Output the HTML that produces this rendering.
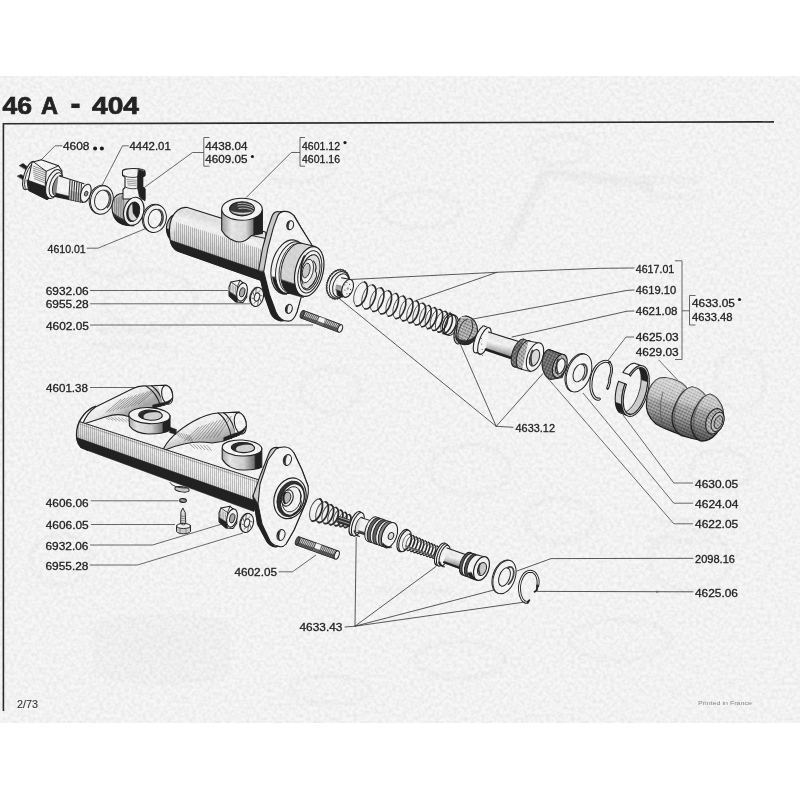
<!DOCTYPE html>
<html><head><meta charset="utf-8"><title>46 A - 404</title>
<style>
html,body{margin:0;padding:0;background:#fff;}
body{width:800px;height:800px;overflow:hidden;position:relative;font-family:"Liberation Sans",sans-serif;}
#paper{position:absolute;left:0;top:76px;width:800px;height:647px;background:#f7f7f7;}
svg{position:absolute;left:0;top:0;font-family:"Liberation Sans",sans-serif;}
</style></head><body>
<div id="paper"></div>
<svg width="800" height="800" viewBox="0 0 800 800">
<defs><filter id="gb" x="-20%" y="-20%" width="140%" height="140%"><feGaussianBlur stdDeviation="1.6"/></filter></defs>
<g filter="url(#gb)" opacity="0.22">
<path d="M508 246 L545 172 L640 183" fill="none" stroke="#dcdcdc" stroke-width="10.799999999999999" stroke-linejoin="round" stroke-linecap="round" />
<ellipse cx="648" cy="186" rx="7" ry="9" transform="rotate(10 648 186)" fill="#dcdcdc" stroke="none" stroke-width="0.0" />
<path d="M95 628 C95 612 225 612 228 628 L228 668 C225 688 95 688 95 668 Z" fill="#eeeeee" stroke="#dcdcdc" stroke-width="2.4" stroke-linejoin="round" stroke-linecap="round" />
<ellipse cx="160" cy="648" rx="40" ry="18" transform="rotate(0 160 648)" fill="#e6e6e6" stroke="none" stroke-width="0.0" />
<ellipse cx="150" cy="300" rx="45" ry="30" transform="rotate(0 150 300)" fill="none" stroke="#dcdcdc" stroke-width="3.5999999999999996" />
<ellipse cx="110" cy="262" rx="25" ry="14" transform="rotate(0 110 262)" fill="none" stroke="#dcdcdc" stroke-width="3.5999999999999996" />
<ellipse cx="330" cy="390" rx="30" ry="22" transform="rotate(0 330 390)" fill="none" stroke="#dcdcdc" stroke-width="3.5999999999999996" />
<ellipse cx="470" cy="470" rx="40" ry="25" transform="rotate(0 470 470)" fill="none" stroke="#dcdcdc" stroke-width="3.5999999999999996" />
<ellipse cx="690" cy="560" rx="40" ry="30" transform="rotate(0 690 560)" fill="none" stroke="#dcdcdc" stroke-width="3.5999999999999996" />
<ellipse cx="560" cy="520" rx="35" ry="22" transform="rotate(0 560 520)" fill="none" stroke="#dcdcdc" stroke-width="3.5999999999999996" />
<ellipse cx="720" cy="470" rx="30" ry="20" transform="rotate(0 720 470)" fill="none" stroke="#dcdcdc" stroke-width="3.5999999999999996" />
<ellipse cx="60" cy="560" rx="30" ry="25" transform="rotate(0 60 560)" fill="none" stroke="#dcdcdc" stroke-width="3.5999999999999996" />
<ellipse cx="420" cy="210" rx="40" ry="18" transform="rotate(0 420 210)" fill="none" stroke="#dcdcdc" stroke-width="3.5999999999999996" />
<ellipse cx="300" cy="170" rx="35" ry="12" transform="rotate(0 300 170)" fill="none" stroke="#dcdcdc" stroke-width="3.5999999999999996" />
<ellipse cx="620" cy="640" rx="50" ry="20" transform="rotate(0 620 640)" fill="none" stroke="#dcdcdc" stroke-width="3.5999999999999996" />
<ellipse cx="460" cy="660" rx="45" ry="18" transform="rotate(0 460 660)" fill="none" stroke="#dcdcdc" stroke-width="3.5999999999999996" />
<ellipse cx="330" cy="690" rx="40" ry="14" transform="rotate(0 330 690)" fill="none" stroke="#dcdcdc" stroke-width="3.5999999999999996" />
<ellipse cx="740" cy="380" rx="25" ry="30" transform="rotate(0 740 380)" fill="none" stroke="#dcdcdc" stroke-width="3.5999999999999996" />
<ellipse cx="560" cy="150" rx="30" ry="14" transform="rotate(0 560 150)" fill="none" stroke="#dcdcdc" stroke-width="3.5999999999999996" />
<path d="M640 178 l60 2" fill="none" stroke="#e2e2e2" stroke-width="6.0" stroke-linejoin="round" stroke-linecap="round" />
<path d="M650 196 l50 2" fill="none" stroke="#e2e2e2" stroke-width="6.0" stroke-linejoin="round" stroke-linecap="round" />
<path d="M655 520 l70 2" fill="none" stroke="#e2e2e2" stroke-width="6.0" stroke-linejoin="round" stroke-linecap="round" />
<path d="M650 540 l60 2" fill="none" stroke="#e2e2e2" stroke-width="6.0" stroke-linejoin="round" stroke-linecap="round" />
<path d="M100 330 l60 2" fill="none" stroke="#e2e2e2" stroke-width="6.0" stroke-linejoin="round" stroke-linecap="round" />
<path d="M95 345 l70 2" fill="none" stroke="#e2e2e2" stroke-width="6.0" stroke-linejoin="round" stroke-linecap="round" />
<path d="M380 590 l70 2" fill="none" stroke="#e2e2e2" stroke-width="6.0" stroke-linejoin="round" stroke-linecap="round" />
</g>
<g opacity="0.99">
<path d="M3.4 711.0 L3.4 123.7 L774.0 121.9" fill="none" stroke="#2a2a2a" stroke-width="1.6" stroke-linejoin="miter"/>
<text x="2.4" y="113.6" font-size="23.2" font-weight="bold" fill="#222" stroke="#222" stroke-width="0.7" textLength="29.60" lengthAdjust="spacingAndGlyphs">46</text>
<text x="41" y="113.6" font-size="23.2" font-weight="bold" fill="#222" stroke="#222" stroke-width="0.7" textLength="17.00" lengthAdjust="spacingAndGlyphs">A</text>
<text transform="translate(70.0 115.0) scale(1.42 1.6)" x="0" y="0" font-size="23.2" font-weight="bold" fill="#222">-</text>
<text x="92" y="113.6" font-size="23.2" font-weight="bold" fill="#222" stroke="#222" stroke-width="0.7" textLength="47.00" lengthAdjust="spacingAndGlyphs">404</text>
<text x="63" y="150" font-size="10.5" font-weight="normal" fill="#1c1c1c" stroke="#1c1c1c" stroke-width="0.28" textLength="26.50" lengthAdjust="spacingAndGlyphs">4608</text>
<text x="129.5" y="150" font-size="10.5" font-weight="normal" fill="#1c1c1c" stroke="#1c1c1c" stroke-width="0.28" textLength="41.25" lengthAdjust="spacingAndGlyphs">4442.01</text>
<text x="205.3" y="150" font-size="10.5" font-weight="normal" fill="#1c1c1c" stroke="#1c1c1c" stroke-width="0.28" textLength="42.30" lengthAdjust="spacingAndGlyphs">4438.04</text>
<text x="205.3" y="162.6" font-size="10.5" font-weight="normal" fill="#1c1c1c" stroke="#1c1c1c" stroke-width="0.28" textLength="42.30" lengthAdjust="spacingAndGlyphs">4609.05</text>
<text x="302" y="150" font-size="10.5" font-weight="normal" fill="#1c1c1c" stroke="#1c1c1c" stroke-width="0.28" textLength="38.00" lengthAdjust="spacingAndGlyphs">4601.12</text>
<text x="302" y="162.6" font-size="10.5" font-weight="normal" fill="#1c1c1c" stroke="#1c1c1c" stroke-width="0.28" textLength="38.00" lengthAdjust="spacingAndGlyphs">4601.16</text>
<text x="47.5" y="252.5" font-size="10.5" font-weight="normal" fill="#1c1c1c" stroke="#1c1c1c" stroke-width="0.28" textLength="38.25" lengthAdjust="spacingAndGlyphs">4610.01</text>
<text x="45.75" y="294.75" font-size="10.5" font-weight="normal" fill="#1c1c1c" stroke="#1c1c1c" stroke-width="0.28" textLength="43.00" lengthAdjust="spacingAndGlyphs">6932.06</text>
<text x="45.75" y="308" font-size="10.5" font-weight="normal" fill="#1c1c1c" stroke="#1c1c1c" stroke-width="0.28" textLength="43.00" lengthAdjust="spacingAndGlyphs">6955.28</text>
<text x="46" y="329.5" font-size="10.5" font-weight="normal" fill="#1c1c1c" stroke="#1c1c1c" stroke-width="0.28" textLength="43.00" lengthAdjust="spacingAndGlyphs">4602.05</text>
<text x="46" y="392" font-size="10.5" font-weight="normal" fill="#1c1c1c" stroke="#1c1c1c" stroke-width="0.28" textLength="42.00" lengthAdjust="spacingAndGlyphs">4601.38</text>
<text x="45.75" y="506.5" font-size="10.5" font-weight="normal" fill="#1c1c1c" stroke="#1c1c1c" stroke-width="0.28" textLength="43.00" lengthAdjust="spacingAndGlyphs">4606.06</text>
<text x="45.75" y="528.75" font-size="10.5" font-weight="normal" fill="#1c1c1c" stroke="#1c1c1c" stroke-width="0.28" textLength="43.00" lengthAdjust="spacingAndGlyphs">4606.05</text>
<text x="45.5" y="549.5" font-size="10.5" font-weight="normal" fill="#1c1c1c" stroke="#1c1c1c" stroke-width="0.28" textLength="43.00" lengthAdjust="spacingAndGlyphs">6932.06</text>
<text x="45.5" y="569.5" font-size="10.5" font-weight="normal" fill="#1c1c1c" stroke="#1c1c1c" stroke-width="0.28" textLength="43.00" lengthAdjust="spacingAndGlyphs">6955.28</text>
<text x="234.5" y="576.25" font-size="10.5" font-weight="normal" fill="#1c1c1c" stroke="#1c1c1c" stroke-width="0.28" textLength="42.50" lengthAdjust="spacingAndGlyphs">4602.05</text>
<text x="299.5" y="631.25" font-size="10.5" font-weight="normal" fill="#1c1c1c" stroke="#1c1c1c" stroke-width="0.28" textLength="43.00" lengthAdjust="spacingAndGlyphs">4633.43</text>
<text x="515.5" y="431.75" font-size="10.5" font-weight="normal" fill="#1c1c1c" stroke="#1c1c1c" stroke-width="0.28" textLength="39.50" lengthAdjust="spacingAndGlyphs">4633.12</text>
<text x="635.75" y="272.5" font-size="10.5" font-weight="normal" fill="#1c1c1c" stroke="#1c1c1c" stroke-width="0.28" textLength="38.50" lengthAdjust="spacingAndGlyphs">4617.01</text>
<text x="635.75" y="294" font-size="10.5" font-weight="normal" fill="#1c1c1c" stroke="#1c1c1c" stroke-width="0.28" textLength="40.50" lengthAdjust="spacingAndGlyphs">4619.10</text>
<text x="635.75" y="315" font-size="10.5" font-weight="normal" fill="#1c1c1c" stroke="#1c1c1c" stroke-width="0.28" textLength="41.75" lengthAdjust="spacingAndGlyphs">4621.08</text>
<text x="635.75" y="341.25" font-size="10.5" font-weight="normal" fill="#1c1c1c" stroke="#1c1c1c" stroke-width="0.28" textLength="43.00" lengthAdjust="spacingAndGlyphs">4625.03</text>
<text x="635.75" y="356" font-size="10.5" font-weight="normal" fill="#1c1c1c" stroke="#1c1c1c" stroke-width="0.28" textLength="43.00" lengthAdjust="spacingAndGlyphs">4629.03</text>
<text x="692" y="307" font-size="10.5" font-weight="normal" fill="#1c1c1c" stroke="#1c1c1c" stroke-width="0.28" textLength="43.00" lengthAdjust="spacingAndGlyphs">4633.05</text>
<text x="692" y="321.25" font-size="10.5" font-weight="normal" fill="#1c1c1c" stroke="#1c1c1c" stroke-width="0.28" textLength="40.50" lengthAdjust="spacingAndGlyphs">4633.48</text>
<text x="695" y="487.5" font-size="10.5" font-weight="normal" fill="#1c1c1c" stroke="#1c1c1c" stroke-width="0.28" textLength="43.25" lengthAdjust="spacingAndGlyphs">4630.05</text>
<text x="695" y="508" font-size="10.5" font-weight="normal" fill="#1c1c1c" stroke="#1c1c1c" stroke-width="0.28" textLength="43.50" lengthAdjust="spacingAndGlyphs">4624.04</text>
<text x="695" y="528" font-size="10.5" font-weight="normal" fill="#1c1c1c" stroke="#1c1c1c" stroke-width="0.28" textLength="43.25" lengthAdjust="spacingAndGlyphs">4622.05</text>
<text x="695" y="563" font-size="10.5" font-weight="normal" fill="#1c1c1c" stroke="#1c1c1c" stroke-width="0.28" textLength="40.00" lengthAdjust="spacingAndGlyphs">2098.16</text>
<text x="695" y="597" font-size="10.5" font-weight="normal" fill="#1c1c1c" stroke="#1c1c1c" stroke-width="0.28" textLength="43.00" lengthAdjust="spacingAndGlyphs">4625.06</text>
<text x="17" y="708.3" font-size="10.5" font-weight="normal" fill="#333" stroke="#333" stroke-width="0.1" textLength="21.00" lengthAdjust="spacingAndGlyphs">2/73</text>
<text x="698" y="705" font-size="6" font-weight="normal" fill="#8a8a8a" stroke="#8a8a8a" stroke-width="0" textLength="54.00" lengthAdjust="spacingAndGlyphs">Printed in France</text>
<circle cx="95.1" cy="148.5" r="2.0" fill="#1c1c1c"/>
<circle cx="101.9" cy="148.5" r="2.0" fill="#1c1c1c"/>
<circle cx="252.4" cy="156.5" r="1.6" fill="#1c1c1c"/>
<circle cx="345" cy="142.6" r="1.6" fill="#1c1c1c"/>
<circle cx="739.5" cy="299.5" r="1.6" fill="#1c1c1c"/>
</g>
<path d="M62.5 145.8 L55.0 145.8 L40.0 161.0" fill="none" stroke="#444" stroke-width="0.8" />
<path d="M128.8 145.8 L122.5 145.8 L102.0 185.5" fill="none" stroke="#444" stroke-width="0.8" />
<path d="M209.5 137.5 L203.8 137.5 L203.8 166.2 L209.5 166.2" fill="none" stroke="#444" stroke-width="0.8" />
<path d="M203.8 152.5 L192.5 152.5 L142.5 188.8" fill="none" stroke="#444" stroke-width="0.8" />
<path d="M305.0 137.5 L300.0 137.5 L300.0 166.2 L305.0 166.2" fill="none" stroke="#444" stroke-width="0.8" />
<path d="M300.0 152.5 L291.2 152.5 L246.2 197.5" fill="none" stroke="#444" stroke-width="0.8" />
<path d="M86.8 248.2 L98.0 248.2 L145.0 228.8" fill="none" stroke="#444" stroke-width="0.8" />
<path d="M90.0 290.5 L228.0 290.5" fill="none" stroke="#444" stroke-width="0.8" />
<path d="M90.0 303.8 L250.0 303.8" fill="none" stroke="#444" stroke-width="0.8" />
<path d="M90.0 325.0 L313.0 325.0" fill="none" stroke="#444" stroke-width="0.8" />
<path d="M90.0 387.5 L135.0 387.5" fill="none" stroke="#444" stroke-width="0.8" />
<path d="M91.0 500.8 L178.5 500.8" fill="none" stroke="#444" stroke-width="0.8" />
<path d="M91.0 524.5 L175.0 524.5" fill="none" stroke="#444" stroke-width="0.8" />
<path d="M90.0 545.0 L152.5 545.0 L222.0 524.0" fill="none" stroke="#444" stroke-width="0.8" />
<path d="M90.0 565.0 L137.5 565.0 L243.0 533.0" fill="none" stroke="#444" stroke-width="0.8" />
<path d="M278.8 571.8 L292.5 571.8 L316.0 555.0" fill="none" stroke="#444" stroke-width="0.8" />
<path d="M675.0 260.8 L682.0 260.8 L682.0 359.5 L675.0 359.5" fill="none" stroke="#444" stroke-width="0.8" />
<path d="M682.0 310.8 L689.5 310.8" fill="none" stroke="#444" stroke-width="0.8" />
<path d="M695.5 295.5 L689.5 295.5 L689.5 325.0 L695.5 325.0" fill="none" stroke="#444" stroke-width="0.8" />
<path d="M634.0 337.0 L626.0 337.0 L607.5 361.0" fill="none" stroke="#444" stroke-width="0.8" />
<path d="M658.8 360.0 L677.5 380.0" fill="none" stroke="#444" stroke-width="0.8" />
<path d="M693.0 483.0 L673.8 483.0 L623.0 415.0" fill="none" stroke="#444" stroke-width="0.8" />
<path d="M693.0 503.2 L673.8 503.2 L583.0 393.0" fill="none" stroke="#444" stroke-width="0.8" />
<path d="M693.0 523.8 L673.8 523.8 L547.6 378.0" fill="none" stroke="#444" stroke-width="0.8" />
<path d="M19.5 165.5 L23.0 163.5 L27.0 166.5 L26.0 169.5 Z" fill="#222" stroke="#222" stroke-width="0.6" stroke-linejoin="round" stroke-linecap="round" />
<path d="M17.5 176.0 L21.0 174.5 L25.5 177.5 L24.5 180.5 Z" fill="#222" stroke="#222" stroke-width="0.6" stroke-linejoin="round" stroke-linecap="round" />
<ellipse cx="29.5" cy="175.5" rx="5.5" ry="14.8" transform="rotate(18 29.5 175.5)" fill="#f7f7f7" stroke="#222" stroke-width="1.08" />
<ellipse cx="31" cy="176" rx="5" ry="14" transform="rotate(18 31 176)" fill="#f7f7f7" stroke="#222" stroke-width="0.84" />
<path d="M32.0 162.3 L41.3 159.8 L58.5 165.8 L62.0 171.0 L60.0 190.0 L47.0 199.5 L29.0 190.5 L27.5 184.0 Z" fill="#f7f7f7" stroke="#222" stroke-width="1.08" stroke-linejoin="round" stroke-linecap="round" />
<path d="M27.2 180.0 L45.2 186.5 L51.0 184.0 L52.0 196.0 L47.0 199.5 L29.0 190.5 Z" fill="#222" stroke="#222" stroke-width="0.72" stroke-linejoin="round" stroke-linecap="round" />
<path d="M33.0 166.0 L45.5 170.6" fill="none" stroke="#555" stroke-width="0.6" stroke-linejoin="round" stroke-linecap="round" />
<path d="M33.2 168.1 L45.5 172.7" fill="none" stroke="#555" stroke-width="0.6" stroke-linejoin="round" stroke-linecap="round" />
<path d="M33.4 170.2 L45.5 174.8" fill="none" stroke="#555" stroke-width="0.6" stroke-linejoin="round" stroke-linecap="round" />
<path d="M33.6 172.3 L45.5 176.9" fill="none" stroke="#555" stroke-width="0.6" stroke-linejoin="round" stroke-linecap="round" />
<path d="M33.8 174.4 L45.5 179.0" fill="none" stroke="#555" stroke-width="0.6" stroke-linejoin="round" stroke-linecap="round" />
<path d="M34.0 176.5 L45.5 181.1" fill="none" stroke="#555" stroke-width="0.6" stroke-linejoin="round" stroke-linecap="round" />
<path d="M34.2 178.6 L45.5 183.2" fill="none" stroke="#555" stroke-width="0.6" stroke-linejoin="round" stroke-linecap="round" />
<path d="M33.7 162 L46.2 171.3 L45.2 186.5" fill="none" stroke="#222" stroke-width="0.96" stroke-linejoin="round" stroke-linecap="round" />
<path d="M46.2 171.3 L58.5 165.8" fill="none" stroke="#222" stroke-width="0.96" stroke-linejoin="round" stroke-linecap="round" />
<ellipse cx="54" cy="184" rx="7.5" ry="15" transform="rotate(18 54 184)" fill="#f7f7f7" stroke="#222" stroke-width="1.08" />
<ellipse cx="56" cy="184.8" rx="6" ry="12.5" transform="rotate(18 56 184.8)" fill="#f7f7f7" stroke="#222" stroke-width="0.96" />
<ellipse cx="58" cy="185.5" rx="4.8" ry="10.5" transform="rotate(18 58 185.5)" fill="#888" stroke="#222" stroke-width="0.84" />
<path d="M58.5 175.6 L83.0 183.4 L90.5 190.0 L89.0 200.0 L82.5 202.2 L56.0 196.5 Z" fill="#f7f7f7" stroke="#222" stroke-width="0.00012" stroke-linejoin="round" stroke-linecap="round" />
<path d="M59.5 176 L84 183.8" fill="none" stroke="#222" stroke-width="1.08" stroke-linejoin="round" stroke-linecap="round" />
<path d="M55 196.3 L83 202.3" fill="none" stroke="#222" stroke-width="1.2" stroke-linejoin="round" stroke-linecap="round" />
<path d="M56.0 193.0 L70.0 196.5 L70.0 199.5 L56.0 196.5 Z" fill="#222" stroke="#222" stroke-width="0.48" stroke-linejoin="round" stroke-linecap="round" />
<path d="M70.0 180.2 L68.8 199.5" fill="none" stroke="#333" stroke-width="1.08" stroke-linejoin="round" stroke-linecap="round" />
<path d="M72.3 180.9 L71.1 200.0" fill="none" stroke="#333" stroke-width="1.08" stroke-linejoin="round" stroke-linecap="round" />
<path d="M74.6 181.7 L73.4 200.5" fill="none" stroke="#333" stroke-width="1.08" stroke-linejoin="round" stroke-linecap="round" />
<path d="M76.9 182.4 L75.7 201.0" fill="none" stroke="#333" stroke-width="1.08" stroke-linejoin="round" stroke-linecap="round" />
<path d="M79.2 183.2 L78.0 201.5" fill="none" stroke="#333" stroke-width="1.08" stroke-linejoin="round" stroke-linecap="round" />
<path d="M81.5 183.9 L80.3 202.0" fill="none" stroke="#333" stroke-width="1.08" stroke-linejoin="round" stroke-linecap="round" />
<path d="M69.5 190.0 L82.0 193.5 L82.0 201.8 L69.0 199.0 Z" fill="#555" stroke="none" stroke-width="0.0" stroke-linejoin="round" stroke-linecap="round" />
<path d="M70.6 190.0 L70.0 199.3" fill="none" stroke="#ddd" stroke-width="0.84" stroke-linejoin="round" stroke-linecap="round" />
<path d="M72.9 190.6 L72.3 199.8" fill="none" stroke="#ddd" stroke-width="0.84" stroke-linejoin="round" stroke-linecap="round" />
<path d="M75.2 191.2 L74.6 200.3" fill="none" stroke="#ddd" stroke-width="0.84" stroke-linejoin="round" stroke-linecap="round" />
<path d="M77.5 191.8 L76.9 200.8" fill="none" stroke="#ddd" stroke-width="0.84" stroke-linejoin="round" stroke-linecap="round" />
<path d="M79.8 192.4 L79.2 201.3" fill="none" stroke="#ddd" stroke-width="0.84" stroke-linejoin="round" stroke-linecap="round" />
<path d="M82.1 193.0 L81.5 201.8" fill="none" stroke="#ddd" stroke-width="0.84" stroke-linejoin="round" stroke-linecap="round" />
<ellipse cx="85.8" cy="193.2" rx="4.8" ry="9.3" transform="rotate(18 85.8 193.2)" fill="#f7f7f7" stroke="#222" stroke-width="1.08" />
<ellipse cx="86.2" cy="193.6" rx="1.6" ry="2.6" transform="rotate(18 86.2 193.6)" fill="#999" stroke="#222" stroke-width="0.84" />
<ellipse cx="100.60000000000001" cy="199.532" rx="11.2" ry="14.4" transform="rotate(14 100.60000000000001 199.532)" fill="#f7f7f7" stroke="#222" stroke-width="0.96" />
<ellipse cx="101.9" cy="200" rx="11.2" ry="14.4" transform="rotate(14 101.9 200)" fill="#f7f7f7" stroke="#222" stroke-width="0.96" />
<ellipse cx="101.9" cy="200" rx="7.2" ry="10" transform="rotate(14 101.9 200)" fill="#f7f7f7" stroke="#222" stroke-width="0.96" />
<path d="M105.9 190.5 A7.2 10 14 0 1 107.3 207.5" fill="none" stroke="#444" stroke-width="1.68" stroke-linejoin="round" stroke-linecap="round" />
<path d="M133.7 197 L123 193.5 C113 193 110 205 113.5 215.5 C116 222 121 226 133.7 225.6 Z" fill="#cdcdcd" stroke="#222" stroke-width="1.08" stroke-linejoin="round" stroke-linecap="round" />
<path d="M113.2 213 C115 221.5 121 226.5 133.7 225.6 L131 221 C122 220 117 216 113.2 213 Z" fill="#222" stroke="#222" stroke-width="0.6" stroke-linejoin="round" stroke-linecap="round" />
<path d="M114.5 199.5 L115.0 216.5" fill="none" stroke="#555" stroke-width="0.6" stroke-linejoin="round" stroke-linecap="round" />
<path d="M116.3 198.6 L116.8 217.3" fill="none" stroke="#555" stroke-width="0.6" stroke-linejoin="round" stroke-linecap="round" />
<path d="M118.1 197.7 L118.6 218.1" fill="none" stroke="#555" stroke-width="0.6" stroke-linejoin="round" stroke-linecap="round" />
<path d="M119.9 196.8 L120.4 218.9" fill="none" stroke="#555" stroke-width="0.6" stroke-linejoin="round" stroke-linecap="round" />
<path d="M121.7 195.9 L122.2 219.7" fill="none" stroke="#555" stroke-width="0.6" stroke-linejoin="round" stroke-linecap="round" />
<path d="M123.5 195.0 L124.0 220.5" fill="none" stroke="#555" stroke-width="0.6" stroke-linejoin="round" stroke-linecap="round" />
<path d="M122.5 171.2 C122.5 167.5 145 167.5 145 171.5 L145 175.5 L142.7 177 L142.7 187 L145 189 L145 199 L123 199 L123 189.5 L125 187.5 L125 177 L122.5 175.5 Z" fill="#f7f7f7" stroke="#222" stroke-width="1.08" stroke-linejoin="round" stroke-linecap="round" />
<path d="M138.5 169.3 L145 171.5 L145 175.5 L142.7 177 L142.7 187 L145 189 L145 201 L139.5 197 L137.5 188 L137.5 177 Z" fill="#222" stroke="#222" stroke-width="0.6" stroke-linejoin="round" stroke-linecap="round" />
<path d="M122.5 174.5 C124 177.5 136 178.5 138 176.5" fill="none" stroke="#222" stroke-width="0.84" stroke-linejoin="round" stroke-linecap="round" />
<path d="M125 186.5 C127 189 135 189.5 137.5 188" fill="none" stroke="#222" stroke-width="0.84" stroke-linejoin="round" stroke-linecap="round" />
<path d="M127.0 179.5 L136.5 180.3" fill="none" stroke="#666" stroke-width="0.6" stroke-linejoin="round" stroke-linecap="round" />
<path d="M127.3 181.3 L136.5 182.1" fill="none" stroke="#666" stroke-width="0.6" stroke-linejoin="round" stroke-linecap="round" />
<path d="M127.6 183.1 L136.5 183.9" fill="none" stroke="#666" stroke-width="0.6" stroke-linejoin="round" stroke-linecap="round" />
<path d="M127.9 184.9 L136.5 185.7" fill="none" stroke="#666" stroke-width="0.6" stroke-linejoin="round" stroke-linecap="round" />
<ellipse cx="133.75" cy="211.3" rx="10" ry="14.3" transform="rotate(14 133.75 211.3)" fill="#f7f7f7" stroke="#222" stroke-width="1.08" />
<ellipse cx="133.2" cy="211.8" rx="6.3" ry="10" transform="rotate(14 133.2 211.8)" fill="#222" stroke="#222" stroke-width="0.96" />
<path d="M128.3 215 C128 209 130 204.5 132.5 203.5 L133 213 L137 218.5 C134 222.5 129.5 221.5 128.3 215 Z" fill="#ddd" stroke="#222" stroke-width="0.48" stroke-linejoin="round" stroke-linecap="round" />
<ellipse cx="153.7" cy="218.132" rx="11.2" ry="14" transform="rotate(14 153.7 218.132)" fill="#f7f7f7" stroke="#222" stroke-width="0.96" />
<ellipse cx="155" cy="218.6" rx="11.2" ry="14" transform="rotate(14 155 218.6)" fill="#f7f7f7" stroke="#222" stroke-width="0.96" />
<ellipse cx="155" cy="218.6" rx="6.6" ry="9.5" transform="rotate(14 155 218.6)" fill="#f7f7f7" stroke="#222" stroke-width="0.96" />
<path d="M158.6 209.6 A6.6 9.5 14 0 1 159.9 225.7" fill="none" stroke="#444" stroke-width="1.68" stroke-linejoin="round" stroke-linecap="round" />
<defs>
<linearGradient id="cylg" gradientUnits="userSpaceOnUse" x1="225" y1="219" x2="211" y2="262">
<stop offset="0" stop-color="#ececec"/><stop offset="0.12" stop-color="#e2e2e2"/><stop offset="0.3" stop-color="#f5f5f5"/><stop offset="0.5" stop-color="#ececec"/><stop offset="0.8" stop-color="#d2d2d2"/><stop offset="1" stop-color="#b4b4b4"/></linearGradient>
<pattern id="hv" width="2" height="8" patternUnits="userSpaceOnUse"><line x1="0.5" y1="0" x2="0.5" y2="8" stroke="#444" stroke-width="0.8"/></pattern>
<linearGradient id="bossg" gradientUnits="userSpaceOnUse" x1="221" y1="0" x2="262" y2="0">
<stop offset="0" stop-color="#999"/><stop offset="0.25" stop-color="#e8e8e8"/><stop offset="0.6" stop-color="#ddd"/><stop offset="0.78" stop-color="#888"/><stop offset="0.8" stop-color="#222"/><stop offset="1" stop-color="#222"/></linearGradient>
</defs>
<path d="M175.5 213.4 C170 216 166.5 222 166.4 228 C166.4 232 167.5 236 170 239 L172.5 236 Z" fill="#bbb" stroke="#222" stroke-width="1.08" stroke-linejoin="round" stroke-linecap="round" />
<path d="M166.5 229 C166.6 233 168 237 170.5 240 L171.5 236.5 C169.5 234 168.8 232 168.5 229 Z" fill="#222" stroke="#222" stroke-width="0.48" stroke-linejoin="round" stroke-linecap="round" />
<path d="M187.4 207.5 L266 232.3 L262 280.7 L178 251.3 C174 249.5 171 245.5 170.2 240 C169 232 169.2 224 171.5 218.5 C174 212 180 206.5 187.4 207.5 Z" fill="url(#cylg)" stroke="#222" stroke-width="1.2" stroke-linejoin="round" stroke-linecap="round" />
<path d="M176 222 L264 250 L262 275 L172 243 Z" fill="url(#hv)" stroke="none" stroke-width="0.0" stroke-linejoin="round" stroke-linecap="round" opacity="0.4"/>
<path d="M170.3 240.2 L262.3 271.7 L262 280.7 L178 251.3 C174 249.5 171 245.5 170.3 240.2 Z" fill="#222" stroke="#222" stroke-width="0.72" stroke-linejoin="round" stroke-linecap="round" />
<path d="M221.7 209.5 L221.7 230.5 C226 238 234 242 240 242 C246 242 249 238 251.5 235.5 L262.4 233.5 L262.4 209.5 Z" fill="url(#bossg)" stroke="#222" stroke-width="1.08" stroke-linejoin="round" stroke-linecap="round" />
<ellipse cx="242" cy="209.3" rx="20.3" ry="11" transform="rotate(0 242 209.3)" fill="#f7f7f7" stroke="#222" stroke-width="1.08" />
<ellipse cx="242" cy="208.8" rx="12.4" ry="7.1" transform="rotate(0 242 208.8)" fill="#3a3a3a" stroke="#222" stroke-width="1.08" />
<path d="M238 203.6 C244 202.6 250 204 253 206.5 M238 206 C244 205 250.5 206.3 253.6 208.6 M239 208.5 C244 207.5 250 208.6 253 210.8" fill="none" stroke="#ddd" stroke-width="0.72" stroke-linejoin="round" stroke-linecap="round" />
<path d="M230.2 210 C233 216 250 216.5 253.8 210.5 C250 213 236 213.5 230.2 210 Z" fill="#ddd" stroke="#222" stroke-width="0.36" stroke-linejoin="round" stroke-linecap="round" />
<path d="M251.5 235.5 L266 238.5" fill="none" stroke="#222" stroke-width="0.96" stroke-linejoin="round" stroke-linecap="round" />
<path d="M279 211.8 C276 211 273 213 271.5 217.5 L268 228 L262.5 248.5 L258.5 271 L264 294 L270.5 312.5 C273 319 280 322 284 320.5 L289 321 L297 312 L300.5 297 L311.6 245 L301 227.6 L294 215.5 L284 211.4 Z" fill="#ccc" stroke="#222" stroke-width="1.08" stroke-linejoin="round" stroke-linecap="round" />
<path d="M258.5 271 L264 294 L270.5 312.5 C273 319 280 322 284 320.5 C280 319 277.5 316 275.9 312 L269.4 294.25 L263.7 271.5 Z" fill="#222" stroke="#222" stroke-width="0.6" stroke-linejoin="round" stroke-linecap="round" />
<path d="M284 211.4 C288 211 291.5 213 293.75 215.4 L301 227.6 L312.5 246 L301.5 296 L297 312 C295 318 291.5 321.5 288.9 321 C284 321.5 278.5 318.5 275.9 312 L269.4 294.25 L263.7 271.5 L267.75 248.75 L273.4 227.6 L277.5 216.25 C279 213 281.5 211.6 284 211.4 Z" fill="#f7f7f7" stroke="#222" stroke-width="1.08" stroke-linejoin="round" stroke-linecap="round" />
<ellipse cx="290.2" cy="225.2" rx="3.3" ry="4.6" transform="rotate(15 290.2 225.2)" fill="#f7f7f7" stroke="#222" stroke-width="1.08" />
<path d="M288 222 C286.5 224.5 287 228 289 229.5 C288 227 288.3 224 290 221" fill="#333" stroke="#222" stroke-width="0.6" stroke-linejoin="round" stroke-linecap="round" />
<ellipse cx="288.9" cy="308.9" rx="3.3" ry="4.6" transform="rotate(15 288.9 308.9)" fill="#f7f7f7" stroke="#222" stroke-width="1.08" />
<path d="M286.7 305.7 C285.2 308.2 285.7 311.7 287.7 313.2 C286.7 310.7 287 307.7 288.7 304.7" fill="#333" stroke="#222" stroke-width="0.6" stroke-linejoin="round" stroke-linecap="round" />
<ellipse cx="288.5" cy="266.8" rx="16.8" ry="27.4" transform="rotate(14 288.5 266.8)" fill="#f7f7f7" stroke="#222" stroke-width="1.08" />
<path d="M272.3 277 C273.5 285 277 291.5 282.5 294.2 L287 294.6 C281.5 291 278 285 276.8 277.5 Z" fill="#222" stroke="#222" stroke-width="0.48" stroke-linejoin="round" stroke-linecap="round" />
<ellipse cx="292" cy="267.6" rx="15.6" ry="26.4" transform="rotate(14 292 267.6)" fill="#f7f7f7" stroke="#222" stroke-width="0.96" />
<ellipse cx="294.3" cy="268" rx="14.4" ry="25.6" transform="rotate(14 294.3 268)" fill="#f7f7f7" stroke="#222" stroke-width="0.84" />
<path d="M294.5 243 L314 246.8 L304 297.5 L286 291.5 Z" fill="#ddd" stroke="#222" stroke-width="0.0" stroke-linejoin="round" stroke-linecap="round" />
<ellipse cx="295.5" cy="268" rx="13.8" ry="25.2" transform="rotate(14 295.5 268)" fill="#d8d8d8" stroke="#222" stroke-width="0.96" />
<path d="M301.5 243.5 L315 246.5 L303.5 297.5 L289.5 293 Z" fill="#ddd" stroke="none" stroke-width="0.0" stroke-linejoin="round" stroke-linecap="round" />
<path d="M301.5 243.2 L315.5 246.6" fill="none" stroke="#222" stroke-width="1.08" stroke-linejoin="round" stroke-linecap="round" />
<path d="M281.5 280 C283 288 287 293 291 294 L303.5 297.5 C299 295 296.5 290 295.5 284.5 Z" fill="#222" stroke="#222" stroke-width="0.6" stroke-linejoin="round" stroke-linecap="round" />
<ellipse cx="309.2" cy="271.5" rx="13.8" ry="25.4" transform="rotate(14 309.2 271.5)" fill="#f7f7f7" stroke="#222" stroke-width="1.2" />
<ellipse cx="309.8" cy="271.9" rx="11.2" ry="21.5" transform="rotate(14 309.8 271.9)" fill="#f7f7f7" stroke="#222" stroke-width="0.96" />
<ellipse cx="310.2" cy="272.3" rx="9" ry="18" transform="rotate(14 310.2 272.3)" fill="#e4e4e4" stroke="#222" stroke-width="0.96" />
<ellipse cx="307.2" cy="271" rx="5.8" ry="12" transform="rotate(14 307.2 271)" fill="#f7f7f7" stroke="#222" stroke-width="0.84" />
<ellipse cx="306.2" cy="270.5" rx="3.6" ry="7.5" transform="rotate(14 306.2 270.5)" fill="#ccc" stroke="#222" stroke-width="0.84" />
<path d="M304 255.5 C299.5 262 299.5 277 303 284.5 C300.5 276 301 263 305.5 256 Z" fill="#222" stroke="#222" stroke-width="0.48" stroke-linejoin="round" stroke-linecap="round" />
<path d="M313.5 261 C316 264 316.5 268 315.3 271 C317 273 316.8 277 315 280 C313.5 283.5 311.5 286 309 287.5" fill="none" stroke="#222" stroke-width="1.08" stroke-linejoin="round" stroke-linecap="round" />
<path d="M303.5 287 C305.5 289.5 308 289 309.5 287.5" fill="none" stroke="#222" stroke-width="0.96" stroke-linejoin="round" stroke-linecap="round" />
<defs>
<pattern id="stip" width="3" height="3" patternUnits="userSpaceOnUse" patternTransform="rotate(25)"><rect width="3" height="3" fill="#b8b8b8"/><circle cx="0.7" cy="0.8" r="0.55" fill="#222"/><circle cx="2.2" cy="2.1" r="0.55" fill="#e8e8e8"/><circle cx="2.3" cy="0.5" r="0.4" fill="#333"/></pattern>
<pattern id="stipl" width="3" height="3" patternUnits="userSpaceOnUse" patternTransform="rotate(25)"><rect width="3" height="3" fill="#cfcfcf"/><circle cx="0.7" cy="0.8" r="0.5" fill="#555"/><circle cx="2.2" cy="2.1" r="0.45" fill="#777"/></pattern>
<pattern id="stipd" width="3" height="3" patternUnits="userSpaceOnUse" patternTransform="rotate(25)"><rect width="3" height="3" fill="#6e6e6e"/><circle cx="0.7" cy="0.8" r="0.5" fill="#d8d8d8"/><circle cx="2.2" cy="2.1" r="0.6" fill="#1a1a1a"/></pattern>
</defs>
<path d="M229.0 287.0 L231.0 282.0 L240.0 280.3 L246.5 285.5 L246.8 297.0 L243.0 302.5 L236.0 302.0 L229.3 296.0 Z" fill="#f7f7f7" stroke="#222" stroke-width="1.08" stroke-linejoin="round" stroke-linecap="round" />
<path d="M229.2 291.5 L237.0 296.5 L237.5 302.0 L236.0 302.0 L229.3 296.0 Z" fill="#222" stroke="#222" stroke-width="0.6" stroke-linejoin="round" stroke-linecap="round" />
<path d="M231 282 L237.5 286.5 L237 296.5 M237.5 286.5 L240 280.3" fill="none" stroke="#222" stroke-width="0.84" stroke-linejoin="round" stroke-linecap="round" />
<path d="M230.5 284.0 L230.3 291.5" fill="none" stroke="#666" stroke-width="0.54" stroke-linejoin="round" stroke-linecap="round" />
<path d="M232.2 285.0 L232.0 292.6" fill="none" stroke="#666" stroke-width="0.54" stroke-linejoin="round" stroke-linecap="round" />
<path d="M233.9 286.0 L233.7 293.7" fill="none" stroke="#666" stroke-width="0.54" stroke-linejoin="round" stroke-linecap="round" />
<path d="M235.6 287.0 L235.4 294.8" fill="none" stroke="#666" stroke-width="0.54" stroke-linejoin="round" stroke-linecap="round" />
<ellipse cx="242" cy="292" rx="5" ry="9.3" transform="rotate(15 242 292)" fill="#f7f7f7" stroke="#222" stroke-width="1.08" />
<ellipse cx="242.2" cy="292.3" rx="2.6" ry="4.8" transform="rotate(15 242.2 292.3)" fill="#aaa" stroke="#222" stroke-width="0.84" />
<ellipse cx="256.2" cy="296.7" rx="6.3" ry="9.6" transform="rotate(15 256.2 296.7)" fill="#f7f7f7" stroke="#222" stroke-width="0.96" />
<ellipse cx="257" cy="297" rx="6.3" ry="9.6" transform="rotate(15 257 297)" fill="#f7f7f7" stroke="#222" stroke-width="1.08" />
<ellipse cx="257" cy="297" rx="2.6" ry="4.2" transform="rotate(15 257 297)" fill="#f7f7f7" stroke="#222" stroke-width="0.96" />
<path d="M259.7 298.3 L261.1 302.0" fill="none" stroke="#444" stroke-width="0.72" stroke-linejoin="round" stroke-linecap="round" />
<path d="M258.3 300.9 L257.7 305.1" fill="none" stroke="#444" stroke-width="0.72" stroke-linejoin="round" stroke-linecap="round" />
<path d="M256.2 301.2 L253.9 303.5" fill="none" stroke="#444" stroke-width="0.72" stroke-linejoin="round" stroke-linecap="round" />
<path d="M254.5 299.1 L251.8 298.1" fill="none" stroke="#444" stroke-width="0.72" stroke-linejoin="round" stroke-linecap="round" />
<path d="M254.3 295.7 L252.9 292.0" fill="none" stroke="#444" stroke-width="0.72" stroke-linejoin="round" stroke-linecap="round" />
<path d="M255.7 293.1 L256.3 288.9" fill="none" stroke="#444" stroke-width="0.72" stroke-linejoin="round" stroke-linecap="round" />
<path d="M257.8 292.8 L260.1 290.5" fill="none" stroke="#444" stroke-width="0.72" stroke-linejoin="round" stroke-linecap="round" />
<path d="M259.5 294.9 L262.2 295.9" fill="none" stroke="#444" stroke-width="0.72" stroke-linejoin="round" stroke-linecap="round" />
<path d="M300.8 317.9 L338.8 332.2 L341.6 324.8 L303.6 310.5 Z" fill="#d8d8d8" stroke="#222" stroke-width="0.96" stroke-linejoin="round" stroke-linecap="round" />
<path d="M300.8 317.9 L338.8 332.2 L339.9 329.2 L301.7 315.5 Z" fill="#6a6a6a" stroke="#222" stroke-width="0.36" stroke-linejoin="round" stroke-linecap="round" />
<path d="M304.1 310.8 L300.3 317.6" fill="none" stroke="#333" stroke-width="0.72" stroke-linejoin="round" stroke-linecap="round" />
<path d="M305.8 311.4 L301.9 318.3" fill="none" stroke="#333" stroke-width="0.72" stroke-linejoin="round" stroke-linecap="round" />
<path d="M307.4 312.0 L303.6 318.9" fill="none" stroke="#333" stroke-width="0.72" stroke-linejoin="round" stroke-linecap="round" />
<path d="M309.1 312.6 L305.2 319.5" fill="none" stroke="#333" stroke-width="0.72" stroke-linejoin="round" stroke-linecap="round" />
<path d="M310.7 313.2 L306.9 320.1" fill="none" stroke="#333" stroke-width="0.72" stroke-linejoin="round" stroke-linecap="round" />
<path d="M312.4 313.9 L308.5 320.7" fill="none" stroke="#333" stroke-width="0.72" stroke-linejoin="round" stroke-linecap="round" />
<path d="M314.0 314.5 L310.2 321.4" fill="none" stroke="#333" stroke-width="0.72" stroke-linejoin="round" stroke-linecap="round" />
<path d="M315.7 315.1 L311.8 322.0" fill="none" stroke="#333" stroke-width="0.72" stroke-linejoin="round" stroke-linecap="round" />
<path d="M317.4 315.7 L313.5 322.6" fill="none" stroke="#333" stroke-width="0.72" stroke-linejoin="round" stroke-linecap="round" />
<path d="M319.0 316.4 L315.1 323.2" fill="none" stroke="#333" stroke-width="0.72" stroke-linejoin="round" stroke-linecap="round" />
<path d="M327.3 319.5 L323.4 326.3" fill="none" stroke="#333" stroke-width="0.72" stroke-linejoin="round" stroke-linecap="round" />
<path d="M328.9 320.1 L325.0 327.0" fill="none" stroke="#333" stroke-width="0.72" stroke-linejoin="round" stroke-linecap="round" />
<path d="M330.6 320.7 L326.7 327.6" fill="none" stroke="#333" stroke-width="0.72" stroke-linejoin="round" stroke-linecap="round" />
<path d="M332.2 321.3 L328.4 328.2" fill="none" stroke="#333" stroke-width="0.72" stroke-linejoin="round" stroke-linecap="round" />
<path d="M333.9 322.0 L330.0 328.8" fill="none" stroke="#333" stroke-width="0.72" stroke-linejoin="round" stroke-linecap="round" />
<path d="M335.5 322.6 L331.7 329.5" fill="none" stroke="#333" stroke-width="0.72" stroke-linejoin="round" stroke-linecap="round" />
<path d="M337.2 323.2 L333.3 330.1" fill="none" stroke="#333" stroke-width="0.72" stroke-linejoin="round" stroke-linecap="round" />
<path d="M338.8 323.8 L335.0 330.7" fill="none" stroke="#333" stroke-width="0.72" stroke-linejoin="round" stroke-linecap="round" />
<path d="M340.5 324.4 L336.6 331.3" fill="none" stroke="#333" stroke-width="0.72" stroke-linejoin="round" stroke-linecap="round" />
<path d="M342.1 325.1 L338.3 331.9" fill="none" stroke="#333" stroke-width="0.72" stroke-linejoin="round" stroke-linecap="round" />
<path d="M319.5 316.6 L325.6 318.8 L323.8 323.6 L317.7 321.3 Z" fill="#f7f7f7" stroke="#222" stroke-width="0.36" stroke-linejoin="round" stroke-linecap="round" />
<ellipse cx="302.2" cy="314.2" rx="1.8" ry="3.9" transform="rotate(20.622111237594634 302.2 314.2)" fill="#555" stroke="#222" stroke-width="0.72" />
<ellipse cx="340.2" cy="328.5" rx="2.2" ry="3.9" transform="rotate(20.622111237594634 340.2 328.5)" fill="#f7f7f7" stroke="#222" stroke-width="0.96" />
<ellipse cx="338" cy="284.3" rx="10.8" ry="15" transform="rotate(20 338 284.3)" fill="#f7f7f7" stroke="#222" stroke-width="1.2" />
<ellipse cx="338" cy="284.3" rx="10.8" ry="15" transform="rotate(20 338 284.3)" fill="none" stroke="#444" stroke-width="1.92" stroke-dasharray="1.2 1.3"/>
<ellipse cx="339.3" cy="284.8" rx="9.4" ry="13.6" transform="rotate(20 339.3 284.8)" fill="#f7f7f7" stroke="#222" stroke-width="0.96" />
<ellipse cx="340.8" cy="285.4" rx="7.6" ry="12" transform="rotate(20 340.8 285.4)" fill="#f7f7f7" stroke="#222" stroke-width="0.96" />
<path d="M341.5 277.8 L349.5 279.3 L352.5 286.0 L350.5 295.0 L346.0 297.4 L337.5 295.0 Z" fill="#f7f7f7" stroke="#222" stroke-width="0.0" stroke-linejoin="round" stroke-linecap="round" />
<path d="M341.5 277.8 L349 279.2" fill="none" stroke="#222" stroke-width="1.08" stroke-linejoin="round" stroke-linecap="round" />
<path d="M337.5 295 L346 297.5" fill="none" stroke="#222" stroke-width="1.08" stroke-linejoin="round" stroke-linecap="round" />
<path d="M336.2 289.5 L341.5 291.5 L343.0 297.0 L337.5 295.2 Z" fill="#222" stroke="#222" stroke-width="0.48" stroke-linejoin="round" stroke-linecap="round" />
<path d="M336.8 285.0 L341.2 286.2 L341.5 291.5 L336.2 289.5 Z" fill="#aaa" stroke="#222" stroke-width="0.36" stroke-linejoin="round" stroke-linecap="round" />
<ellipse cx="347.6" cy="288.3" rx="5.3" ry="9.3" transform="rotate(20 347.6 288.3)" fill="#f7f7f7" stroke="#222" stroke-width="1.08" />
<circle cx="350.6" cy="289.3" r="0.6" fill="#333"/>
<circle cx="349.5" cy="293.5" r="0.6" fill="#333"/>
<circle cx="346.9" cy="293.8" r="0.6" fill="#333"/>
<circle cx="344.9" cy="290.0" r="0.6" fill="#333"/>
<circle cx="344.9" cy="284.8" r="0.6" fill="#333"/>
<circle cx="346.9" cy="282.3" r="0.6" fill="#333"/>
<circle cx="349.5" cy="284.3" r="0.6" fill="#333"/>
<circle cx="347.8" cy="288.6" r="1.1" fill="#999"/>
<path d="M364.6 281.9 A6.4 12.8 18.8 0 0 356.4 306.1" fill="none" stroke="#555" stroke-width="0.972" stroke-linejoin="round" stroke-linecap="round" />
<path d="M372.9 284.9 A6.3 12.6 18.8 0 0 364.8 308.8" fill="none" stroke="#555" stroke-width="0.972" stroke-linejoin="round" stroke-linecap="round" />
<path d="M380.9 287.8 A6.2 12.4 18.8 0 0 372.9 311.3" fill="none" stroke="#555" stroke-width="0.972" stroke-linejoin="round" stroke-linecap="round" />
<path d="M388.6 290.7 A6.1 12.2 18.8 0 0 380.7 313.8" fill="none" stroke="#555" stroke-width="0.972" stroke-linejoin="round" stroke-linecap="round" />
<path d="M396.1 293.4 A6.0 12.1 18.8 0 0 388.3 316.2" fill="none" stroke="#555" stroke-width="0.972" stroke-linejoin="round" stroke-linecap="round" />
<path d="M403.2 296.0 A5.9 11.9 18.8 0 0 395.5 318.5" fill="none" stroke="#555" stroke-width="0.972" stroke-linejoin="round" stroke-linecap="round" />
<path d="M410.0 298.5 A5.9 11.7 18.8 0 0 402.5 320.7" fill="none" stroke="#555" stroke-width="0.972" stroke-linejoin="round" stroke-linecap="round" />
<path d="M416.6 300.9 A5.8 11.6 18.8 0 0 409.1 322.8" fill="none" stroke="#555" stroke-width="0.972" stroke-linejoin="round" stroke-linecap="round" />
<path d="M422.9 303.2 A5.7 11.4 18.8 0 0 415.5 324.8" fill="none" stroke="#555" stroke-width="0.972" stroke-linejoin="round" stroke-linecap="round" />
<path d="M428.9 305.4 A5.6 11.3 18.8 0 0 421.6 326.7" fill="none" stroke="#555" stroke-width="0.972" stroke-linejoin="round" stroke-linecap="round" />
<path d="M434.6 307.5 A5.6 11.2 18.8 0 0 427.4 328.6" fill="none" stroke="#555" stroke-width="0.972" stroke-linejoin="round" stroke-linecap="round" />
<path d="M440.0 309.4 A5.5 11.0 18.8 0 0 432.9 330.3" fill="none" stroke="#555" stroke-width="0.972" stroke-linejoin="round" stroke-linecap="round" />
<path d="M445.1 311.3 A5.5 10.9 18.8 0 0 438.1 332.0" fill="none" stroke="#555" stroke-width="0.972" stroke-linejoin="round" stroke-linecap="round" />
<path d="M450.0 313.1 A5.4 10.8 18.8 0 0 443.0 333.5" fill="none" stroke="#555" stroke-width="0.972" stroke-linejoin="round" stroke-linecap="round" />
<path d="M364.6 281.9 A6.4 12.8 18.8 0 1 356.4 306.1" fill="none" stroke="#2a2a2a" stroke-width="1.62" stroke-linejoin="round" stroke-linecap="round" />
<path d="M372.9 284.9 A6.3 12.6 18.8 0 1 364.8 308.8" fill="none" stroke="#2a2a2a" stroke-width="1.62" stroke-linejoin="round" stroke-linecap="round" />
<path d="M380.9 287.8 A6.2 12.4 18.8 0 1 372.9 311.3" fill="none" stroke="#2a2a2a" stroke-width="1.62" stroke-linejoin="round" stroke-linecap="round" />
<path d="M388.6 290.7 A6.1 12.2 18.8 0 1 380.7 313.8" fill="none" stroke="#2a2a2a" stroke-width="1.62" stroke-linejoin="round" stroke-linecap="round" />
<path d="M396.1 293.4 A6.0 12.1 18.8 0 1 388.3 316.2" fill="none" stroke="#2a2a2a" stroke-width="1.62" stroke-linejoin="round" stroke-linecap="round" />
<path d="M403.2 296.0 A5.9 11.9 18.8 0 1 395.5 318.5" fill="none" stroke="#2a2a2a" stroke-width="1.62" stroke-linejoin="round" stroke-linecap="round" />
<path d="M410.0 298.5 A5.9 11.7 18.8 0 1 402.5 320.7" fill="none" stroke="#2a2a2a" stroke-width="1.62" stroke-linejoin="round" stroke-linecap="round" />
<path d="M416.6 300.9 A5.8 11.6 18.8 0 1 409.1 322.8" fill="none" stroke="#2a2a2a" stroke-width="1.62" stroke-linejoin="round" stroke-linecap="round" />
<path d="M422.9 303.2 A5.7 11.4 18.8 0 1 415.5 324.8" fill="none" stroke="#2a2a2a" stroke-width="1.62" stroke-linejoin="round" stroke-linecap="round" />
<path d="M428.9 305.4 A5.6 11.3 18.8 0 1 421.6 326.7" fill="none" stroke="#2a2a2a" stroke-width="1.62" stroke-linejoin="round" stroke-linecap="round" />
<path d="M434.6 307.5 A5.6 11.2 18.8 0 1 427.4 328.6" fill="none" stroke="#2a2a2a" stroke-width="1.62" stroke-linejoin="round" stroke-linecap="round" />
<path d="M440.0 309.4 A5.5 11.0 18.8 0 1 432.9 330.3" fill="none" stroke="#2a2a2a" stroke-width="1.62" stroke-linejoin="round" stroke-linecap="round" />
<path d="M445.1 311.3 A5.5 10.9 18.8 0 1 438.1 332.0" fill="none" stroke="#2a2a2a" stroke-width="1.62" stroke-linejoin="round" stroke-linecap="round" />
<path d="M450.0 313.1 A5.4 10.8 18.8 0 1 443.0 333.5" fill="none" stroke="#2a2a2a" stroke-width="1.62" stroke-linejoin="round" stroke-linecap="round" />
<ellipse cx="449.3" cy="324.4" rx="6.3" ry="10.6" transform="rotate(20 449.3 324.4)" fill="none" stroke="#222" stroke-width="1.2" />
<ellipse cx="451.3" cy="325.2" rx="6.3" ry="10.6" transform="rotate(20 451.3 325.2)" fill="none" stroke="#222" stroke-width="0.96" />
<ellipse cx="462.2" cy="330" rx="7" ry="14.6" transform="rotate(20 462.2 330)" fill="url(#stip)" stroke="#222" stroke-width="1.08" />
<path d="M466.5 316.4 C474 317.5 479 325 477 334 C475.5 341 470 345.5 463 344.5 C460 344 457 341 455.8 337 L457.5 322 C459.5 318 462.5 316 466.5 316.4 Z" fill="url(#stip)" stroke="#222" stroke-width="1.08" stroke-linejoin="round" stroke-linecap="round" />
<path d="M456 336 C458 342 461 344.6 464.5 344.6 C470 345 476 340.5 477.3 333 C474 338.5 468 341.5 462 340 C459 339.5 457 338 456 336 Z" fill="#2a2a2a" stroke="#222" stroke-width="0.36" stroke-linejoin="round" stroke-linecap="round" />
<ellipse cx="465.3" cy="330.8" rx="6.4" ry="12.6" transform="rotate(20 465.3 330.8)" fill="none" stroke="#333" stroke-width="0.84" />
<path d="M461 318 C464 316.5 468 317.5 470 319" fill="none" stroke="#ddd" stroke-width="1.44" stroke-linejoin="round" stroke-linecap="round" />
<ellipse cx="480" cy="339.5" rx="5" ry="14.2" transform="rotate(20 480 339.5)" fill="#f7f7f7" stroke="#222" stroke-width="1.08" />
<path d="M483.0 325.6 L487.2 327.0 L489.0 355.4 L484.6 354.0 Z" fill="#f7f7f7" stroke="#222" stroke-width="0.0" stroke-linejoin="round" stroke-linecap="round" />
<ellipse cx="484.4" cy="341" rx="5" ry="14.2" transform="rotate(20 484.4 341)" fill="#f7f7f7" stroke="#222" stroke-width="1.08" />
<path d="M483 325.8 L487.3 327.2 M476.5 352.6 L481 354.2" fill="none" stroke="#222" stroke-width="0.96" stroke-linejoin="round" stroke-linecap="round" />
<circle cx="481.4" cy="338.4" r="0.5" fill="#333"/>
<circle cx="481.7" cy="344.1" r="0.5" fill="#333"/>
<circle cx="482.1" cy="349.5" r="0.5" fill="#333"/>
<circle cx="482.3" cy="353.5" r="0.5" fill="#333"/>
<circle cx="482.4" cy="355.2" r="0.5" fill="#333"/>
<path d="M488.5 332.0 L521.0 342.3 L516.0 360.6 L485.8 350.6 Z" fill="#f7f7f7" stroke="#222" stroke-width="0.0" stroke-linejoin="round" stroke-linecap="round" />
<linearGradient id="shg" gradientUnits="userSpaceOnUse" x1="505" y1="336" x2="500" y2="356"><stop offset="0" stop-color="#eee"/><stop offset="0.45" stop-color="#f4f4f4"/><stop offset="0.75" stop-color="#bbb"/><stop offset="1" stop-color="#666"/></linearGradient>
<path d="M488.5 332.0 L521.0 342.3 L516.0 360.6 L485.8 350.6 Z" fill="url(#shg)" stroke="#222" stroke-width="0.0" stroke-linejoin="round" stroke-linecap="round" />
<path d="M488.5 332 L521 342.3" fill="none" stroke="#222" stroke-width="1.08" stroke-linejoin="round" stroke-linecap="round" />
<path d="M486 349.5 L515.5 359.4" fill="none" stroke="#222" stroke-width="2.64" stroke-linejoin="round" stroke-linecap="round" />
<ellipse cx="519" cy="353" rx="6.5" ry="14.6" transform="rotate(20 519 353)" fill="url(#stipd)" stroke="#222" stroke-width="0.96" />
<path d="M523.5 339.5 L528.5 341.2 L521.5 369.2 L516.5 367.5 Z" fill="url(#stip)" stroke="#222" stroke-width="0.0" stroke-linejoin="round" stroke-linecap="round" />
<path d="M523.5 339.3 L528.5 341 M514.5 366.8 L522 369.4" fill="none" stroke="#222" stroke-width="0.96" stroke-linejoin="round" stroke-linecap="round" />
<ellipse cx="524.5" cy="354.7" rx="6.8" ry="14.8" transform="rotate(20 524.5 354.7)" fill="url(#stip)" stroke="#222" stroke-width="0.96" />
<path d="M528.5 341.0 L539.5 343.2 L531.0 371.8 L522.0 369.4 Z" fill="#f7f7f7" stroke="#222" stroke-width="0.0" stroke-linejoin="round" stroke-linecap="round" />
<path d="M528.5 341 L539 343 M522 369.4 L530.5 371.6" fill="none" stroke="#222" stroke-width="0.96" stroke-linejoin="round" stroke-linecap="round" />
<ellipse cx="535" cy="357" rx="7.6" ry="14.8" transform="rotate(20 535 357)" fill="#f7f7f7" stroke="#222" stroke-width="1.08" />
<ellipse cx="534.5" cy="357.8" rx="4.6" ry="8.6" transform="rotate(20 534.5 357.8)" fill="#ddd" stroke="#222" stroke-width="0.96" />
<path d="M532.5 350.5 C530.5 354 530.3 361 532 365.5" fill="none" stroke="#444" stroke-width="1.7999999999999998" stroke-linejoin="round" stroke-linecap="round" />
<path d="M549 349.5 C545 350 541.5 357 542 365 C542.5 372 546 378.5 551 379.5 L562 377.5 L567 366 L563 354.5 Z" fill="url(#stipd)" stroke="#222" stroke-width="1.08" stroke-linejoin="round" stroke-linecap="round" />
<path d="M549 349.5 L560.5 354 " fill="none" stroke="#222" stroke-width="0.96" stroke-linejoin="round" stroke-linecap="round" />
<ellipse cx="559.8" cy="366" rx="6.6" ry="12.2" transform="rotate(20 559.8 366)" fill="url(#stip)" stroke="#222" stroke-width="1.08" />
<ellipse cx="560.3" cy="366.3" rx="4.2" ry="8" transform="rotate(20 560.3 366.3)" fill="#f7f7f7" stroke="#222" stroke-width="0.96" />
<path d="M558 359.5 C556.2 363 556.2 369 558 373" fill="none" stroke="#333" stroke-width="1.56" stroke-linejoin="round" stroke-linecap="round" />
<ellipse cx="577.8" cy="372.568" rx="11.6" ry="19.8" transform="rotate(20 577.8 372.568)" fill="#f7f7f7" stroke="#222" stroke-width="0.96" />
<ellipse cx="579" cy="373" rx="11.6" ry="19.8" transform="rotate(20 579 373)" fill="#f7f7f7" stroke="#222" stroke-width="0.96" />
<ellipse cx="579" cy="373" rx="5.4" ry="9.2" transform="rotate(20 579 373)" fill="#f7f7f7" stroke="#222" stroke-width="0.96" />
<path d="M582.0 364.3 A5.4 9.2 20 0 1 583.0 379.9" fill="none" stroke="#444" stroke-width="1.68" stroke-linejoin="round" stroke-linecap="round" />
<path d="M609.5 362.5 C606 360 600.5 361.5 596.5 366.5 C590.5 374 589 389 593.5 396 C595 398.5 597.5 399.5 599.3 399" fill="none" stroke="#222" stroke-width="3.12" stroke-linejoin="round" stroke-linecap="round" />
<path d="M609.5 362.5 C606 360 600.5 361.5 596.5 366.5 C590.5 374 589 389 593.5 396 C595 398.5 597.5 399.5 599.3 399" fill="none" stroke="#f7f7f7" stroke-width="1.08" stroke-linejoin="round" stroke-linecap="round" />
<path d="M609.5 362.5 C612 366 612 372 610 377.5 C609 380.5 610.5 381.5 609 384 L607.6 388.3" fill="none" stroke="#222" stroke-width="2.88" stroke-linejoin="round" stroke-linecap="round" />
<path d="M609.7 363 C612 366 612 372 610 377.5 C609 380.5 610.5 381.5 609 384 L607.8 387.6" fill="none" stroke="#f7f7f7" stroke-width="0.84" stroke-linejoin="round" stroke-linecap="round" />
<path d="M634.8 365.2 L636.1 365.5 L637.3 366.1 L638.3 367.2 L639.3 368.6 L640.0 370.3 L640.6 372.3 L641.0 374.6 L641.2 377.1 L641.2 379.7 L640.9 382.6 L640.6 385.5 L640.0 388.5 L639.2 391.4 L638.3 394.4 L637.2 397.2 L636.0 399.9 L634.7 402.4 L633.3 404.7 L631.8 406.7 L630.3 408.5 L628.7 409.9 L627.2 411.0 L625.7 411.7 L624.2 412.0 L630.7 414.4 L632.2 414.1 L633.7 413.4 L635.2 412.3 L636.8 410.9 L638.3 409.1 L639.8 407.1 L641.2 404.8 L642.5 402.3 L643.7 399.6 L644.8 396.8 L645.7 393.8 L646.5 390.9 L647.1 387.9 L647.4 385.0 L647.7 382.1 L647.7 379.5 L647.5 377.0 L647.1 374.7 L646.5 372.7 L645.8 371.0 L644.8 369.6 L643.8 368.5 L642.6 367.9 L641.3 367.6 Z" fill="#d0d0d0" stroke="#222" stroke-width="0.84" stroke-linejoin="round" stroke-linecap="round" />
<path d="M638.1 366.9 L638.3 367.2 L638.6 367.5 L638.8 367.9 L639.1 368.2 L639.3 368.6 L639.5 369.0 L639.7 369.5 L639.9 369.9 L640.0 370.4 L640.2 370.9 L640.4 371.4 L640.5 371.9 L640.6 372.5 L640.7 373.0 L640.8 373.6 L640.9 374.2 L641.0 374.8 L641.1 375.5 L641.1 376.1 L641.1 376.8 L641.2 377.4 L641.2 378.1 L641.2 378.8 L641.2 379.5 L647.7 381.9 L647.7 381.2 L647.7 380.5 L647.7 379.8 L647.6 379.2 L647.6 378.5 L647.6 377.9 L647.5 377.2 L647.4 376.6 L647.3 376.0 L647.2 375.4 L647.1 374.9 L647.0 374.3 L646.9 373.8 L646.7 373.3 L646.5 372.8 L646.4 372.3 L646.2 371.9 L646.0 371.4 L645.8 371.0 L645.6 370.6 L645.3 370.3 L645.1 369.9 L644.8 369.6 L644.6 369.3 Z" fill="#222" stroke="#222" stroke-width="0.48" stroke-linejoin="round" stroke-linecap="round" />
<path d="M619.9 412.8 L619.2 412.3 L618.6 411.6 L618.0 410.9 L617.5 410.0 L617.1 409.1 L616.6 408.1 L616.3 407.0 L616.0 405.8 L615.7 404.6 L615.5 403.3 L615.3 401.9 L615.3 400.5 L615.2 399.0 L615.3 397.5 L615.3 395.9 L615.5 394.3 L615.7 392.7 L615.9 391.1 L616.2 389.5 L616.6 387.8 L617.0 386.2 L617.5 384.5 L618.0 382.9 L618.5 381.3 L625.0 383.7 L624.5 385.3 L624.0 386.9 L623.5 388.6 L623.1 390.2 L622.7 391.9 L622.4 393.5 L622.2 395.1 L622.0 396.7 L621.8 398.3 L621.8 399.9 L621.7 401.4 L621.8 402.9 L621.8 404.3 L622.0 405.7 L622.2 407.0 L622.5 408.2 L622.8 409.4 L623.1 410.5 L623.6 411.5 L624.0 412.4 L624.5 413.3 L625.1 414.0 L625.7 414.7 L626.4 415.2 Z" fill="#d8d8d8" stroke="#222" stroke-width="1.08" stroke-linejoin="round" stroke-linecap="round" />
<path d="M618.5 411.5 L618.3 411.3 L618.1 411.0 L617.9 410.7 L617.7 410.4 L617.5 410.1 L617.4 409.8 L617.2 409.4 L617.0 409.1 L616.9 408.7 L616.7 408.4 L616.6 408.0 L616.5 407.6 L616.3 407.2 L616.2 406.8 L616.1 406.4 L616.0 405.9 L615.9 405.5 L615.8 405.1 L615.7 404.6 L615.6 404.1 L615.5 403.7 L615.5 403.2 L615.4 402.7 L615.4 402.2 L621.9 404.6 L621.9 405.1 L622.0 405.6 L622.0 406.1 L622.1 406.5 L622.2 407.0 L622.3 407.5 L622.4 407.9 L622.5 408.3 L622.6 408.8 L622.7 409.2 L622.8 409.6 L623.0 410.0 L623.1 410.4 L623.2 410.8 L623.4 411.1 L623.5 411.5 L623.7 411.8 L623.9 412.2 L624.0 412.5 L624.2 412.8 L624.4 413.1 L624.6 413.4 L624.8 413.7 L625.0 413.9 Z" fill="#222" stroke="#222" stroke-width="0.48" stroke-linejoin="round" stroke-linecap="round" />
<path d="M622.9 372.4 L623.3 371.7 L623.8 371.0 L624.3 370.4 L624.7 369.7 L625.2 369.1 L625.7 368.5 L626.2 368.0 L626.7 367.5 L627.2 367.0 L627.7 366.5 L628.2 366.1 L628.7 365.6 L629.2 365.3 L629.7 364.9 L630.2 364.6 L630.7 364.3 L631.2 364.1 L631.7 363.8 L632.1 363.6 L632.6 363.5 L633.1 363.4 L633.6 363.3 L634.1 363.2 L634.5 363.2 L641.0 365.6 L640.6 365.6 L640.1 365.7 L639.6 365.8 L639.1 365.9 L638.6 366.0 L638.2 366.2 L637.7 366.5 L637.2 366.7 L636.7 367.0 L636.2 367.3 L635.7 367.7 L635.2 368.0 L634.7 368.5 L634.2 368.9 L633.7 369.4 L633.2 369.9 L632.7 370.4 L632.2 370.9 L631.7 371.5 L631.2 372.1 L630.8 372.8 L630.3 373.4 L629.8 374.1 L629.4 374.8 Z" fill="#f7f7f7" stroke="#222" stroke-width="1.08" stroke-linejoin="round" stroke-linecap="round" />
<path d="M629.4 374.8 L630.6 373.0 L631.9 371.3 L633.2 369.8 L634.6 368.6 L635.9 367.5 L637.3 366.7 L638.6 366.1 L639.9 365.7 L641.1 365.6 L642.3 365.7 L643.5 366.1 L644.5 366.7 L645.5 367.5 L646.4 368.6 L647.2 369.9 L647.8 371.4 L648.4 373.1 L648.8 374.9 L649.1 376.9 L649.2 379.0 L649.3 381.3 L649.2 383.6 L648.9 386.1 L648.6 388.5 L648.1 391.0 L647.5 393.5 L646.7 396.0 L645.9 398.4 L645.0 400.7 L644.0 403.0 L642.9 405.1 L641.7 407.1 L640.4 409.0 L639.2 410.6 L637.8 412.1 L636.5 413.4 L635.2 414.5 L633.8 415.3 L632.5 415.9 L631.2 416.3 L629.9 416.4 L628.7 416.3 L627.6 415.9 L626.5 415.3 L625.5 414.5 L624.6 413.4 L623.9 412.2 L623.2 410.7 L622.7 409.0 L622.2 407.2 L621.9 405.2 L621.8 403.1 L621.7 400.8 L621.8 398.5 L622.1 396.1 L622.4 393.6 L622.9 391.1 L623.5 388.6 L624.2 386.2 L625.0 383.7 L626.5 384.5 L625.7 386.7 L625.1 389.0 L624.5 391.3 L624.0 393.6 L623.7 395.8 L623.5 398.1 L623.3 400.2 L623.3 402.3 L623.5 404.2 L623.7 406.1 L624.0 407.8 L624.5 409.3 L625.0 410.6 L625.7 411.8 L626.5 412.8 L627.3 413.5 L628.2 414.0 L629.2 414.4 L630.3 414.4 L631.4 414.3 L632.5 414.0 L633.7 413.4 L634.9 412.6 L636.1 411.6 L637.2 410.4 L638.4 409.0 L639.6 407.4 L640.7 405.7 L641.7 403.9 L642.7 401.9 L643.6 399.8 L644.5 397.6 L645.2 395.4 L645.9 393.1 L646.5 390.8 L646.9 388.5 L647.3 386.3 L647.5 384.0 L647.7 381.9 L647.7 379.8 L647.6 377.8 L647.3 376.0 L647.0 374.3 L646.5 372.8 L646.0 371.4 L645.3 370.3 L644.6 369.3 L643.7 368.5 L642.8 368.0 L641.8 367.7 L640.8 367.6 L639.7 367.7 L638.6 368.0 L637.4 368.6 L636.2 369.4 L635.0 370.4 L633.8 371.6 L632.6 372.9 L631.5 374.5 L630.4 376.2 Z" fill="#f7f7f7" stroke="#222" stroke-width="1.08" stroke-linejoin="round" stroke-linecap="round" />
<linearGradient id="bootg" gradientUnits="userSpaceOnUse" x1="690" y1="380" x2="678" y2="436"><stop offset="0" stop-color="#fff" stop-opacity="0.6"/><stop offset="0.4" stop-color="#fff" stop-opacity="0.3"/><stop offset="0.62" stop-color="#000" stop-opacity="0.1"/><stop offset="1" stop-color="#000" stop-opacity="0.55"/></linearGradient>
<path d="M656 380 C661 376.5 670 377 679 381.6 C684 384 687 387 688 392 L684 436 C676 433 664 429 656 424 C649 418 645.5 410 646.5 402 C647 393 650 385 656 380 Z" fill="url(#stip)" stroke="#222" stroke-width="1.2" stroke-linejoin="round" stroke-linecap="round" />
<path d="M656 380 C661 376.5 670 377 679 381.6 C684 384 687 387 688 392 L684 436 C676 433 664 429 656 424 C649 418 645.5 410 646.5 402 C647 393 650 385 656 380 Z" fill="url(#bootg)" stroke="none" stroke-width="0.0" stroke-linejoin="round" stroke-linecap="round" />
<path d="M692 386.8 C684 388 676 400 672.5 413 C670.5 424 675 433.5 684 436.2 L692 438.5 L702 440.5 L706 396 C702 391 698 387.5 692 386.8 Z" fill="url(#stip)" stroke="#222" stroke-width="1.2" stroke-linejoin="round" stroke-linecap="round" />
<path d="M692 386.8 C684 388 676 400 672.5 413 C670.5 424 675 433.5 684 436.2 L692 438.5 L702 440.5 L706 396 C702 391 698 387.5 692 386.8 Z" fill="url(#bootg)" stroke="none" stroke-width="0.0" stroke-linejoin="round" stroke-linecap="round" />
<path d="M710 394 C702 395.5 694.5 407 691.5 418 C689.5 428 693.5 438.5 700.5 441 C705 441.5 711 439.5 716 434 C721 428 724.5 418 723 410 C721.5 403 716.5 396 710 394 Z" fill="url(#stip)" stroke="#222" stroke-width="1.2" stroke-linejoin="round" stroke-linecap="round" />
<path d="M710 394 C702 395.5 694.5 407 691.5 418 C689.5 428 693.5 438.5 700.5 441 C705 441.5 711 439.5 716 434 C721 428 724.5 418 723 410 C721.5 403 716.5 396 710 394 Z" fill="url(#bootg)" stroke="none" stroke-width="0.0" stroke-linejoin="round" stroke-linecap="round" />
<path d="M663 392 C659.5 402 659.5 417 663.5 428" fill="none" stroke="#555" stroke-width="0.72" stroke-linejoin="round" stroke-linecap="round" />
<path d="M684 389.5 C677 398 673.5 410 674 422 C674.5 429 677.5 434 682 436" fill="none" stroke="#333" stroke-width="1.92" stroke-linejoin="round" stroke-linecap="round" opacity="0.35"/>
<path d="M703 397 C696 405 693 416 693.5 427 C694 434 696.5 438.5 700 440.5" fill="none" stroke="#333" stroke-width="1.92" stroke-linejoin="round" stroke-linecap="round" opacity="0.35"/>
<ellipse cx="714.8" cy="421.3" rx="8.6" ry="13.2" transform="rotate(20 714.8 421.3)" fill="url(#stip)" stroke="#222" stroke-width="1.08" />
<ellipse cx="717.6" cy="421.8" rx="6" ry="10" transform="rotate(20 717.6 421.8)" fill="url(#stipl)" stroke="#222" stroke-width="0.96" />
<ellipse cx="718.4" cy="422.2" rx="3.8" ry="6.8" transform="rotate(20 718.4 422.2)" fill="url(#stip)" stroke="#222" stroke-width="0.84" />
<defs>
<linearGradient id="lcg" gradientUnits="userSpaceOnUse" x1="150" y1="446" x2="140" y2="470">
<stop offset="0" stop-color="#f4f4f4"/><stop offset="0.2" stop-color="#f0f0f0"/><stop offset="0.6" stop-color="#dadada"/><stop offset="1" stop-color="#b0b0b0"/></linearGradient>
<linearGradient id="lboss" gradientUnits="userSpaceOnUse" x1="0" y1="0" x2="40" y2="0">
<stop offset="0" stop-color="#aaa"/><stop offset="0.2" stop-color="#e8e8e8"/><stop offset="0.55" stop-color="#d0d0d0"/><stop offset="0.8" stop-color="#777"/><stop offset="0.84" stop-color="#222"/><stop offset="1" stop-color="#222"/></linearGradient>
<linearGradient id="tubeg1" gradientUnits="userSpaceOnUse" x1="118" y1="396" x2="128" y2="414">
<stop offset="0" stop-color="#f7f7f7"/><stop offset="0.4" stop-color="#ececec"/><stop offset="0.75" stop-color="#c4c4c4"/><stop offset="1" stop-color="#aaa"/></linearGradient>
<linearGradient id="tubeg2" gradientUnits="userSpaceOnUse" x1="203" y1="418" x2="211" y2="442">
<stop offset="0" stop-color="#f7f7f7"/><stop offset="0.4" stop-color="#ececec"/><stop offset="0.75" stop-color="#c4c4c4"/><stop offset="1" stop-color="#aaa"/></linearGradient>
</defs>
<ellipse cx="182" cy="489.3" rx="7.2" ry="2.6" transform="rotate(8 182 489.3)" fill="#ccc" stroke="#222" stroke-width="0.96" />
<path d="M170 482.5 C172 486 178 488 186 488" fill="none" stroke="#222" stroke-width="0.96" stroke-linejoin="round" stroke-linecap="round" />
<path d="M95.5 406.3 C87 409 79 418 77.5 421.1 L268 478.9 L270 462 L262 452 L236 440 L170 418 L140 406 Z" fill="#f7f7f7" stroke="#222" stroke-width="0.0" stroke-linejoin="round" stroke-linecap="round" />
<path d="M82.6 424.2 C85 418 89 411.5 95.5 407 L133 388.5 C137 386.3 141 385.6 146 386 L166 385.2 C170.5 386.5 173 391 172.3 397 C171.6 401 169.5 403.8 166 404.5 L153 408 L128.5 416.5 C122 414 114 414 106 416.8 C98 419.5 90 422 82.6 424.2 Z" fill="url(#tubeg1)" stroke="#222" stroke-width="1.08" stroke-linejoin="round" stroke-linecap="round" />
<path d="M106.0 412.5 L121.0 399.5" fill="none" stroke="#555" stroke-width="0.54" stroke-linejoin="round" stroke-linecap="round" />
<path d="M109.6 411.6 L124.8 398.4" fill="none" stroke="#555" stroke-width="0.54" stroke-linejoin="round" stroke-linecap="round" />
<path d="M113.2 410.7 L128.6 397.3" fill="none" stroke="#555" stroke-width="0.54" stroke-linejoin="round" stroke-linecap="round" />
<path d="M116.8 409.8 L132.4 396.2" fill="none" stroke="#555" stroke-width="0.54" stroke-linejoin="round" stroke-linecap="round" />
<path d="M120.4 408.9 L136.2 395.1" fill="none" stroke="#555" stroke-width="0.54" stroke-linejoin="round" stroke-linecap="round" />
<path d="M124.0 408.0 L140.0 394.0" fill="none" stroke="#555" stroke-width="0.54" stroke-linejoin="round" stroke-linecap="round" />
<path d="M127.6 407.1 L143.8 392.9" fill="none" stroke="#555" stroke-width="0.54" stroke-linejoin="round" stroke-linecap="round" />
<path d="M131.2 406.2 L147.6 391.8" fill="none" stroke="#555" stroke-width="0.54" stroke-linejoin="round" stroke-linecap="round" />
<path d="M134.8 405.3 L151.4 390.7" fill="none" stroke="#555" stroke-width="0.54" stroke-linejoin="round" stroke-linecap="round" />
<path d="M138.4 404.4 L155.2 389.6" fill="none" stroke="#555" stroke-width="0.54" stroke-linejoin="round" stroke-linecap="round" />
<path d="M146 386 C152 389.5 158 397 160.5 406" fill="none" stroke="#222" stroke-width="1.08" stroke-linejoin="round" stroke-linecap="round" />
<path d="M151.5 385.7 C157 389 162 397 164 405" fill="none" stroke="#222" stroke-width="1.08" stroke-linejoin="round" stroke-linecap="round" />
<path d="M158.0 386.0 L168.0 386.0 L172.0 396.0 L168.0 404.5 L163.0 405.0 Z" fill="#f7f7f7" stroke="#222" stroke-width="0.0" stroke-linejoin="round" stroke-linecap="round" />
<path d="M155 385.5 L167 385.2" fill="none" stroke="#222" stroke-width="1.08" stroke-linejoin="round" stroke-linecap="round" />
<ellipse cx="167.2" cy="394.8" rx="5.4" ry="9.5" transform="rotate(-12 167.2 394.8)" fill="#f7f7f7" stroke="#222" stroke-width="1.08" />
<path d="M152.5 408.2 L166 404.6 C169.8 403.6 171.8 400.5 172.3 397.5 C170 400.8 166.5 402.3 160 403.2 L153 405 Z" fill="#222" stroke="#222" stroke-width="0.6" stroke-linejoin="round" stroke-linecap="round" />
<path d="M104.0 416.3 L109.0 419.8" fill="none" stroke="#666" stroke-width="0.54" stroke-linejoin="round" stroke-linecap="round" />
<path d="M107.6 416.7 L112.6 420.3" fill="none" stroke="#666" stroke-width="0.54" stroke-linejoin="round" stroke-linecap="round" />
<path d="M111.2 417.0 L116.2 420.8" fill="none" stroke="#666" stroke-width="0.54" stroke-linejoin="round" stroke-linecap="round" />
<path d="M114.8 417.4 L119.8 421.3" fill="none" stroke="#666" stroke-width="0.54" stroke-linejoin="round" stroke-linecap="round" />
<path d="M118.4 417.7 L123.4 421.8" fill="none" stroke="#666" stroke-width="0.54" stroke-linejoin="round" stroke-linecap="round" />
<path d="M122.0 418.1 L127.0 422.3" fill="none" stroke="#666" stroke-width="0.54" stroke-linejoin="round" stroke-linecap="round" />
<path d="M125.6 418.4 L130.6 422.8" fill="none" stroke="#666" stroke-width="0.54" stroke-linejoin="round" stroke-linecap="round" />
<path d="M162.5 451 C167 440 180 429 193 421.5 C202 416.5 210 413.5 218 413 L238 412.2 C243 413.5 246.5 419 246 425 C245.5 430 243 433.5 239 435 L222 441.5 L212 443 C202 441.5 192 442 185 443.7 C176 445.5 168 448.5 162.5 451 Z" fill="url(#tubeg2)" stroke="#222" stroke-width="1.08" stroke-linejoin="round" stroke-linecap="round" />
<path d="M184.0 441.5 L199.0 427.0" fill="none" stroke="#555" stroke-width="0.54" stroke-linejoin="round" stroke-linecap="round" />
<path d="M187.7 441.0 L202.6 425.8" fill="none" stroke="#555" stroke-width="0.54" stroke-linejoin="round" stroke-linecap="round" />
<path d="M191.4 440.5 L206.2 424.6" fill="none" stroke="#555" stroke-width="0.54" stroke-linejoin="round" stroke-linecap="round" />
<path d="M195.1 440.0 L209.8 423.4" fill="none" stroke="#555" stroke-width="0.54" stroke-linejoin="round" stroke-linecap="round" />
<path d="M198.8 439.5 L213.4 422.2" fill="none" stroke="#555" stroke-width="0.54" stroke-linejoin="round" stroke-linecap="round" />
<path d="M202.5 439.0 L217.0 421.0" fill="none" stroke="#555" stroke-width="0.54" stroke-linejoin="round" stroke-linecap="round" />
<path d="M206.2 438.5 L220.6 419.8" fill="none" stroke="#555" stroke-width="0.54" stroke-linejoin="round" stroke-linecap="round" />
<path d="M209.9 438.0 L224.2 418.6" fill="none" stroke="#555" stroke-width="0.54" stroke-linejoin="round" stroke-linecap="round" />
<path d="M213.6 437.5 L227.8 417.4" fill="none" stroke="#555" stroke-width="0.54" stroke-linejoin="round" stroke-linecap="round" />
<path d="M217.3 437.0 L231.4 416.2" fill="none" stroke="#555" stroke-width="0.54" stroke-linejoin="round" stroke-linecap="round" />
<path d="M218 413 C224.5 417 230 427 231.5 438.5" fill="none" stroke="#222" stroke-width="1.08" stroke-linejoin="round" stroke-linecap="round" />
<path d="M223.5 412.7 C230 417 235 427 236.5 436.5" fill="none" stroke="#222" stroke-width="1.08" stroke-linejoin="round" stroke-linecap="round" />
<path d="M231.0 413.0 L241.0 413.0 L246.0 424.0 L241.0 434.5 L236.0 436.0 Z" fill="#f7f7f7" stroke="#222" stroke-width="0.0" stroke-linejoin="round" stroke-linecap="round" />
<path d="M228 412.5 L239.5 412.1" fill="none" stroke="#222" stroke-width="1.08" stroke-linejoin="round" stroke-linecap="round" />
<ellipse cx="240.3" cy="423.3" rx="5.8" ry="10.8" transform="rotate(-12 240.3 423.3)" fill="#f7f7f7" stroke="#222" stroke-width="1.08" />
<path d="M224 441 L239 435.2 C243 433.5 245.5 430 246 426 C243.5 430 240 432.3 233 434 L224 437.5 Z" fill="#222" stroke="#222" stroke-width="0.6" stroke-linejoin="round" stroke-linecap="round" />
<path d="M169.5 427 L176.5 429.5 L176 434.5 L169.5 432.5 Z" fill="#222" stroke="#222" stroke-width="0.48" stroke-linejoin="round" stroke-linecap="round" />
<path d="M176.0 432.0 L180.0 437.5" fill="none" stroke="#666" stroke-width="0.54" stroke-linejoin="round" stroke-linecap="round" />
<path d="M178.6 432.6 L182.6 438.4" fill="none" stroke="#666" stroke-width="0.54" stroke-linejoin="round" stroke-linecap="round" />
<path d="M181.2 433.2 L185.2 439.3" fill="none" stroke="#666" stroke-width="0.54" stroke-linejoin="round" stroke-linecap="round" />
<path d="M183.8 433.8 L187.8 440.2" fill="none" stroke="#666" stroke-width="0.54" stroke-linejoin="round" stroke-linecap="round" />
<path d="M186.4 434.4 L190.4 441.1" fill="none" stroke="#666" stroke-width="0.54" stroke-linejoin="round" stroke-linecap="round" />
<path d="M189.0 435.0 L193.0 442.0" fill="none" stroke="#666" stroke-width="0.54" stroke-linejoin="round" stroke-linecap="round" />
<path d="M190.0 444.2 L194.5 448.2" fill="none" stroke="#666" stroke-width="0.54" stroke-linejoin="round" stroke-linecap="round" />
<path d="M193.4 444.4 L197.9 448.7" fill="none" stroke="#666" stroke-width="0.54" stroke-linejoin="round" stroke-linecap="round" />
<path d="M196.8 444.7 L201.3 449.2" fill="none" stroke="#666" stroke-width="0.54" stroke-linejoin="round" stroke-linecap="round" />
<path d="M200.2 444.9 L204.7 449.7" fill="none" stroke="#666" stroke-width="0.54" stroke-linejoin="round" stroke-linecap="round" />
<path d="M203.6 445.2 L208.1 450.2" fill="none" stroke="#666" stroke-width="0.54" stroke-linejoin="round" stroke-linecap="round" />
<path d="M207.0 445.4 L211.5 450.7" fill="none" stroke="#666" stroke-width="0.54" stroke-linejoin="round" stroke-linecap="round" />
<linearGradient id="lb1" gradientUnits="userSpaceOnUse" x1="129" y1="0" x2="170" y2="0"><stop offset="0" stop-color="#aaa"/><stop offset="0.2" stop-color="#e8e8e8"/><stop offset="0.55" stop-color="#d0d0d0"/><stop offset="0.8" stop-color="#777"/><stop offset="0.84" stop-color="#222"/><stop offset="1" stop-color="#222"/></linearGradient>
<linearGradient id="lb2" gradientUnits="userSpaceOnUse" x1="222" y1="0" x2="262" y2="0"><stop offset="0" stop-color="#aaa"/><stop offset="0.2" stop-color="#e8e8e8"/><stop offset="0.55" stop-color="#d0d0d0"/><stop offset="0.8" stop-color="#777"/><stop offset="0.84" stop-color="#222"/><stop offset="1" stop-color="#222"/></linearGradient>
<path d="M128.9 415.6 L129.5 426 C133 431 141 434 148.5 434 C158 434 166 433 170 430 L170 415.6 Z" fill="url(#lb1)" stroke="#222" stroke-width="1.08" stroke-linejoin="round" stroke-linecap="round" />
<ellipse cx="149.4" cy="415.6" rx="20.6" ry="8" transform="rotate(3 149.4 415.6)" fill="#f7f7f7" stroke="#222" stroke-width="1.08" />
<ellipse cx="150.5" cy="415.2" rx="11.8" ry="5" transform="rotate(3 150.5 415.2)" fill="#d4d4d4" stroke="#222" stroke-width="1.08" />
<path d="M139 416 C138.5 412.5 144 410.2 150.5 410.2 C155 410.2 158.5 411 160.5 412.3 C156 411.8 150 412 146.5 413.3 C143.5 414.5 142.5 416.5 144 418.6 C141.5 418 139.5 417.2 139 416 Z" fill="#2a2a2a" stroke="#222" stroke-width="0.36" stroke-linejoin="round" stroke-linecap="round" />
<path d="M79.2 421.5 L262 480.9 L256 511.5 L88 450.5 L81 447.5 C77.5 443.5 75.8 437 76.8 430 C77.2 427 78 424 79.2 421.5 Z" fill="url(#lcg)" stroke="#222" stroke-width="0.0" stroke-linejoin="round" stroke-linecap="round" />
<path d="M79.2 421.5 L262 480.9 L256 511.5 L88 450.5 L81 447.5 C77.5 443.5 75.8 437 76.8 430 C77.2 427 78 424 79.2 421.5 Z" fill="url(#hv)" stroke="none" stroke-width="0.0" stroke-linejoin="round" stroke-linecap="round" opacity="0.36"/>
<path d="M79.2 421.5 L262 480.9" fill="none" stroke="#222" stroke-width="0.96" stroke-linejoin="round" stroke-linecap="round" />
<path d="M78.4 423.7 L262 483.5" fill="none" stroke="#888" stroke-width="0.6" stroke-linejoin="round" stroke-linecap="round" />
<path d="M76.5 437.6 L256 501.1 L254 511.5 L88 450.5 L81 447.5 C78.5 445 77 441.5 76.5 437.6 Z" fill="#222" stroke="#222" stroke-width="0.72" stroke-linejoin="round" stroke-linecap="round" />
<path d="M95.5 406.3 C87 409 78.5 419 76.8 430 C75.8 437 77.5 443.5 81 447.5 L88 450.5" fill="none" stroke="#222" stroke-width="1.32" stroke-linejoin="round" stroke-linecap="round" />
<path d="M222.2 448 L222.2 459 C226 466 234 470 242 470 C250 470 258 469.5 261.8 467 L261.8 448 Z" fill="url(#lb2)" stroke="#222" stroke-width="1.08" stroke-linejoin="round" stroke-linecap="round" />
<ellipse cx="242" cy="448" rx="19.8" ry="8" transform="rotate(3 242 448)" fill="#f7f7f7" stroke="#222" stroke-width="1.08" />
<ellipse cx="243" cy="447.6" rx="11.6" ry="5" transform="rotate(3 243 447.6)" fill="#d4d4d4" stroke="#222" stroke-width="1.08" />
<path d="M231.7 448.4 C231.2 445 236.5 442.6 243 442.6 C247.5 442.6 251 443.4 253 444.7 C248.5 444.2 242.5 444.4 239 445.7 C236 446.9 235 448.9 236.5 451 C234 450.4 232.2 449.6 231.7 448.4 Z" fill="#2a2a2a" stroke="#222" stroke-width="0.36" stroke-linejoin="round" stroke-linecap="round" />
<path d="M278 447.5 C274 447 271 449 269.5 452 L260 476 L253 496 L257.5 524 L265.5 539 C268 544.5 272 547 276 547 L286 544 L294 530 L306 502 L308 486 L302 470 L294 453 L284 447 Z" fill="#cfcfcf" stroke="#222" stroke-width="1.08" stroke-linejoin="round" stroke-linecap="round" />
<path d="M253 496 L257.5 524 L265.5 539 C268 544.5 272 547 277 546.8 C273.5 545.5 271.5 543.5 270 541 L262 524 L258 504 Z" fill="#222" stroke="#222" stroke-width="0.6" stroke-linejoin="round" stroke-linecap="round" />
<path d="M284 447 C288 446.6 291.5 449 294 453 L302 470 L308 486 C308.8 491 308 497 306 502 L294 530 L286 544 C283.5 547 280.5 547.3 278 546 C274.5 545.5 272 544 270 541 L262 524 L258 504 L260 484 L268 460 L276 449 C278.5 447.5 281 447 284 447 Z" fill="#f7f7f7" stroke="#222" stroke-width="1.08" stroke-linejoin="round" stroke-linecap="round" />
<ellipse cx="287.4" cy="460" rx="3.9" ry="5.5" transform="rotate(18 287.4 460)" fill="#f7f7f7" stroke="#222" stroke-width="1.08" />
<path d="M284.8 456.5 C283 459.5 283.8 463.5 286 465.2 C284.9 462 285.3 458.5 287.3 455" fill="#333" stroke="#222" stroke-width="0.6" stroke-linejoin="round" stroke-linecap="round" />
<ellipse cx="281" cy="535" rx="3.9" ry="5.5" transform="rotate(18 281 535)" fill="#f7f7f7" stroke="#222" stroke-width="1.08" />
<path d="M278.4 531.5 C276.6 534.5 277.4 538.5 279.6 540.2 C278.5 537 278.9 533.5 280.9 530" fill="#333" stroke="#222" stroke-width="0.6" stroke-linejoin="round" stroke-linecap="round" />
<ellipse cx="290" cy="498.3" rx="15.6" ry="20.8" transform="rotate(18 290 498.3)" fill="#f7f7f7" stroke="#222" stroke-width="1.2" />
<ellipse cx="290.8" cy="498.8" rx="13.3" ry="18.2" transform="rotate(18 290.8 498.8)" fill="#333" stroke="#222" stroke-width="0.84" />
<ellipse cx="292.3" cy="499.5" rx="11.3" ry="16" transform="rotate(18 292.3 499.5)" fill="#f7f7f7" stroke="#222" stroke-width="0.96" />
<ellipse cx="291.6" cy="499.3" rx="9" ry="13" transform="rotate(18 291.6 499.3)" fill="#f7f7f7" stroke="#222" stroke-width="0.84" />
<ellipse cx="287.3" cy="498" rx="5.6" ry="8.3" transform="rotate(18 287.3 498)" fill="#f7f7f7" stroke="#222" stroke-width="1.08" />
<ellipse cx="286.8" cy="497.8" rx="3.8" ry="5.8" transform="rotate(18 286.8 497.8)" fill="#bbb" stroke="#222" stroke-width="0.84" />
<path d="M285 492.5 C283 495.5 283 500.5 284.8 503.3" fill="none" stroke="#222" stroke-width="1.92" stroke-linejoin="round" stroke-linecap="round" />
<path d="M299 490 C301 493 301.3 496.5 300.3 499 C301.8 501 301.5 505 299.5 508 C298 511 295.5 513 293 514" fill="none" stroke="#222" stroke-width="1.08" stroke-linejoin="round" stroke-linecap="round" />
<ellipse cx="183" cy="500.5" rx="3.4" ry="1.9" transform="rotate(5 183 500.5)" fill="#999" stroke="#222" stroke-width="1.08" />
<path d="M183 508.3 L185.2 512.5 L185.8 524.5 L180.6 524.5 L180.9 512.5 Z" fill="#ddd" stroke="#222" stroke-width="0.96" stroke-linejoin="round" stroke-linecap="round" />
<path d="M180.8 516.0 L185.7 516.6" fill="none" stroke="#555" stroke-width="0.6" stroke-linejoin="round" stroke-linecap="round" />
<path d="M180.8 518.2 L185.7 518.8" fill="none" stroke="#555" stroke-width="0.6" stroke-linejoin="round" stroke-linecap="round" />
<path d="M180.8 520.4 L185.7 521.0" fill="none" stroke="#555" stroke-width="0.6" stroke-linejoin="round" stroke-linecap="round" />
<path d="M180.8 522.6 L185.7 523.2" fill="none" stroke="#555" stroke-width="0.6" stroke-linejoin="round" stroke-linecap="round" />
<path d="M176.5 526 L176.5 531.5 C178 534.5 189 534.5 190.5 531.5 L190.5 526 Z" fill="#ccc" stroke="#222" stroke-width="0.96" stroke-linejoin="round" stroke-linecap="round" />
<ellipse cx="183.5" cy="526" rx="7" ry="2.5" transform="rotate(0 183.5 526)" fill="#f7f7f7" stroke="#222" stroke-width="0.96" />
<path d="M181 524 C181 525.3 185.6 525.3 185.6 524" fill="none" stroke="#222" stroke-width="0.72" stroke-linejoin="round" stroke-linecap="round" />
<path d="M180 529 L180 534 M186 529.2 L186 534" fill="none" stroke="#555" stroke-width="0.6" stroke-linejoin="round" stroke-linecap="round" />
<path d="M219.0 513.0 L221.0 508.0 L230.0 506.3 L236.5 511.5 L236.8 523.0 L233.0 528.5 L226.0 528.0 L219.3 522.0 Z" fill="#f7f7f7" stroke="#222" stroke-width="1.08" stroke-linejoin="round" stroke-linecap="round" />
<path d="M219.2 517.5 L227.0 522.5 L227.5 528.0 L226.0 528.0 L219.3 522.0 Z" fill="#222" stroke="#222" stroke-width="0.6" stroke-linejoin="round" stroke-linecap="round" />
<path d="M221 508 L227.5 512.5 L227 522.5 M227.5 512.5 L230 506.3" fill="none" stroke="#222" stroke-width="0.84" stroke-linejoin="round" stroke-linecap="round" />
<path d="M220.5 510.0 L220.3 517.5" fill="none" stroke="#666" stroke-width="0.54" stroke-linejoin="round" stroke-linecap="round" />
<path d="M222.2 511.0 L222.0 518.6" fill="none" stroke="#666" stroke-width="0.54" stroke-linejoin="round" stroke-linecap="round" />
<path d="M223.9 512.0 L223.7 519.7" fill="none" stroke="#666" stroke-width="0.54" stroke-linejoin="round" stroke-linecap="round" />
<path d="M225.6 513.0 L225.4 520.8" fill="none" stroke="#666" stroke-width="0.54" stroke-linejoin="round" stroke-linecap="round" />
<ellipse cx="232" cy="518" rx="5" ry="9.3" transform="rotate(15 232 518)" fill="#f7f7f7" stroke="#222" stroke-width="1.08" />
<ellipse cx="232.2" cy="518.3" rx="2.6" ry="4.8" transform="rotate(15 232.2 518.3)" fill="#aaa" stroke="#222" stroke-width="0.84" />
<ellipse cx="246.2" cy="522.7" rx="6.3" ry="9.6" transform="rotate(15 246.2 522.7)" fill="#f7f7f7" stroke="#222" stroke-width="0.96" />
<ellipse cx="247" cy="523" rx="6.3" ry="9.6" transform="rotate(15 247 523)" fill="#f7f7f7" stroke="#222" stroke-width="1.08" />
<ellipse cx="247" cy="523" rx="2.6" ry="4.2" transform="rotate(15 247 523)" fill="#f7f7f7" stroke="#222" stroke-width="0.96" />
<path d="M249.7 524.3 L251.1 528.0" fill="none" stroke="#444" stroke-width="0.72" stroke-linejoin="round" stroke-linecap="round" />
<path d="M248.3 526.9 L247.7 531.1" fill="none" stroke="#444" stroke-width="0.72" stroke-linejoin="round" stroke-linecap="round" />
<path d="M246.2 527.2 L243.9 529.5" fill="none" stroke="#444" stroke-width="0.72" stroke-linejoin="round" stroke-linecap="round" />
<path d="M244.5 525.1 L241.8 524.1" fill="none" stroke="#444" stroke-width="0.72" stroke-linejoin="round" stroke-linecap="round" />
<path d="M244.3 521.7 L242.9 518.0" fill="none" stroke="#444" stroke-width="0.72" stroke-linejoin="round" stroke-linecap="round" />
<path d="M245.7 519.1 L246.3 514.9" fill="none" stroke="#444" stroke-width="0.72" stroke-linejoin="round" stroke-linecap="round" />
<path d="M247.8 518.8 L250.1 516.5" fill="none" stroke="#444" stroke-width="0.72" stroke-linejoin="round" stroke-linecap="round" />
<path d="M249.5 520.9 L252.2 521.9" fill="none" stroke="#444" stroke-width="0.72" stroke-linejoin="round" stroke-linecap="round" />
<path d="M296.0 544.8 L335.3 559.0 L338.3 551.0 L299.0 536.8 Z" fill="#d8d8d8" stroke="#222" stroke-width="0.96" stroke-linejoin="round" stroke-linecap="round" />
<path d="M296.0 544.8 L335.3 559.0 L336.5 555.8 L297.0 542.2 Z" fill="#6a6a6a" stroke="#222" stroke-width="0.36" stroke-linejoin="round" stroke-linecap="round" />
<path d="M299.5 537.0 L295.5 544.6" fill="none" stroke="#333" stroke-width="0.72" stroke-linejoin="round" stroke-linecap="round" />
<path d="M301.2 537.6 L297.1 545.2" fill="none" stroke="#333" stroke-width="0.72" stroke-linejoin="round" stroke-linecap="round" />
<path d="M302.8 538.1 L298.7 545.8" fill="none" stroke="#333" stroke-width="0.72" stroke-linejoin="round" stroke-linecap="round" />
<path d="M304.4 538.7 L300.4 546.4" fill="none" stroke="#333" stroke-width="0.72" stroke-linejoin="round" stroke-linecap="round" />
<path d="M306.1 539.3 L302.0 547.0" fill="none" stroke="#333" stroke-width="0.72" stroke-linejoin="round" stroke-linecap="round" />
<path d="M307.7 539.9 L303.7 547.6" fill="none" stroke="#333" stroke-width="0.72" stroke-linejoin="round" stroke-linecap="round" />
<path d="M309.4 540.5 L305.3 548.2" fill="none" stroke="#333" stroke-width="0.72" stroke-linejoin="round" stroke-linecap="round" />
<path d="M311.0 541.1 L306.9 548.8" fill="none" stroke="#333" stroke-width="0.72" stroke-linejoin="round" stroke-linecap="round" />
<path d="M312.6 541.7 L308.6 549.4" fill="none" stroke="#333" stroke-width="0.72" stroke-linejoin="round" stroke-linecap="round" />
<path d="M314.3 542.3 L310.2 550.0" fill="none" stroke="#333" stroke-width="0.72" stroke-linejoin="round" stroke-linecap="round" />
<path d="M315.9 542.9 L311.8 550.6" fill="none" stroke="#333" stroke-width="0.72" stroke-linejoin="round" stroke-linecap="round" />
<path d="M322.5 545.2 L318.4 552.9" fill="none" stroke="#333" stroke-width="0.72" stroke-linejoin="round" stroke-linecap="round" />
<path d="M324.1 545.8 L320.0 553.5" fill="none" stroke="#333" stroke-width="0.72" stroke-linejoin="round" stroke-linecap="round" />
<path d="M325.7 546.4 L321.7 554.1" fill="none" stroke="#333" stroke-width="0.72" stroke-linejoin="round" stroke-linecap="round" />
<path d="M327.4 547.0 L323.3 554.7" fill="none" stroke="#333" stroke-width="0.72" stroke-linejoin="round" stroke-linecap="round" />
<path d="M329.0 547.6 L324.9 555.3" fill="none" stroke="#333" stroke-width="0.72" stroke-linejoin="round" stroke-linecap="round" />
<path d="M330.6 548.2 L326.6 555.9" fill="none" stroke="#333" stroke-width="0.72" stroke-linejoin="round" stroke-linecap="round" />
<path d="M332.3 548.8 L328.2 556.5" fill="none" stroke="#333" stroke-width="0.72" stroke-linejoin="round" stroke-linecap="round" />
<path d="M333.9 549.4 L329.9 557.1" fill="none" stroke="#333" stroke-width="0.72" stroke-linejoin="round" stroke-linecap="round" />
<path d="M335.6 550.0 L331.5 557.7" fill="none" stroke="#333" stroke-width="0.72" stroke-linejoin="round" stroke-linecap="round" />
<path d="M337.2 550.6 L333.1 558.2" fill="none" stroke="#333" stroke-width="0.72" stroke-linejoin="round" stroke-linecap="round" />
<path d="M338.8 551.2 L334.8 558.8" fill="none" stroke="#333" stroke-width="0.72" stroke-linejoin="round" stroke-linecap="round" />
<path d="M316.3 543.0 L321.8 545.0 L319.9 550.2 L314.4 548.3 Z" fill="#f7f7f7" stroke="#222" stroke-width="0.36" stroke-linejoin="round" stroke-linecap="round" />
<ellipse cx="297.5" cy="540.8" rx="1.8" ry="4.3" transform="rotate(19.86596135797457 297.5 540.8)" fill="#555" stroke="#222" stroke-width="0.72" />
<ellipse cx="336.8" cy="555" rx="2.2" ry="4.3" transform="rotate(19.86596135797457 336.8 555)" fill="#f7f7f7" stroke="#222" stroke-width="0.96" />
<path d="M319.9 498.9 A6.1 11.8 19.5 0 0 312.1 521.1" fill="none" stroke="#555" stroke-width="1.0799999999999998" stroke-linejoin="round" stroke-linecap="round" />
<path d="M325.7 501.9 A5.6 10.8 19.5 0 0 318.4 522.3" fill="none" stroke="#555" stroke-width="1.0799999999999998" stroke-linejoin="round" stroke-linecap="round" />
<path d="M331.1 504.8 A5.2 9.9 19.5 0 0 324.4 523.5" fill="none" stroke="#555" stroke-width="1.0799999999999998" stroke-linejoin="round" stroke-linecap="round" />
<path d="M336.1 507.5 A4.7 9.0 19.5 0 0 330.1 524.6" fill="none" stroke="#555" stroke-width="1.0799999999999998" stroke-linejoin="round" stroke-linecap="round" />
<path d="M340.8 510.1 A4.3 8.2 19.5 0 0 335.3 525.6" fill="none" stroke="#555" stroke-width="1.0799999999999998" stroke-linejoin="round" stroke-linecap="round" />
<path d="M345.2 512.4 A3.9 7.5 19.5 0 0 340.2 526.5" fill="none" stroke="#555" stroke-width="1.0799999999999998" stroke-linejoin="round" stroke-linecap="round" />
<path d="M349.3 514.6 A3.5 6.8 19.5 0 0 344.7 527.4" fill="none" stroke="#555" stroke-width="1.0799999999999998" stroke-linejoin="round" stroke-linecap="round" />
<path d="M319.9 498.9 A6.1 11.8 19.5 0 1 312.1 521.1" fill="none" stroke="#2a2a2a" stroke-width="1.7999999999999998" stroke-linejoin="round" stroke-linecap="round" />
<path d="M325.7 501.9 A5.6 10.8 19.5 0 1 318.4 522.3" fill="none" stroke="#2a2a2a" stroke-width="1.7999999999999998" stroke-linejoin="round" stroke-linecap="round" />
<path d="M331.1 504.8 A5.2 9.9 19.5 0 1 324.4 523.5" fill="none" stroke="#2a2a2a" stroke-width="1.7999999999999998" stroke-linejoin="round" stroke-linecap="round" />
<path d="M336.1 507.5 A4.7 9.0 19.5 0 1 330.1 524.6" fill="none" stroke="#2a2a2a" stroke-width="1.7999999999999998" stroke-linejoin="round" stroke-linecap="round" />
<path d="M340.8 510.1 A4.3 8.2 19.5 0 1 335.3 525.6" fill="none" stroke="#2a2a2a" stroke-width="1.7999999999999998" stroke-linejoin="round" stroke-linecap="round" />
<path d="M345.2 512.4 A3.9 7.5 19.5 0 1 340.2 526.5" fill="none" stroke="#2a2a2a" stroke-width="1.7999999999999998" stroke-linejoin="round" stroke-linecap="round" />
<path d="M349.3 514.6 A3.5 6.8 19.5 0 1 344.7 527.4" fill="none" stroke="#2a2a2a" stroke-width="1.7999999999999998" stroke-linejoin="round" stroke-linecap="round" />
<path d="M338.0 516.0 L352.0 520.5 L351.0 527.0 L337.0 522.5 Z" fill="#333" stroke="#222" stroke-width="0.48" stroke-linejoin="round" stroke-linecap="round" />
<path d="M339.5 517.5 L350 521 M339 520.5 L350.5 524.3" fill="none" stroke="#ccc" stroke-width="0.72" stroke-linejoin="round" stroke-linecap="round" />
<ellipse cx="355.5" cy="523.5" rx="5.2" ry="12.6" transform="rotate(20 355.5 523.5)" fill="#f7f7f7" stroke="#222" stroke-width="1.2" />
<ellipse cx="357.8" cy="524.3" rx="5.2" ry="12.4" transform="rotate(20 357.8 524.3)" fill="#f7f7f7" stroke="#222" stroke-width="1.08" />
<path d="M353.8 531 C355 535 357.5 537 360 536.5 C357 535.5 355.5 533.5 354.8 530.5 Z" fill="#222" stroke="#222" stroke-width="0.48" stroke-linejoin="round" stroke-linecap="round" />
<ellipse cx="359.5" cy="525" rx="3.4" ry="8.2" transform="rotate(20 359.5 525)" fill="#ddd" stroke="#222" stroke-width="0.84" />
<path d="M361.0 517.5 L371.0 520.8 L368.5 536.0 L358.5 532.6 Z" fill="#f7f7f7" stroke="#222" stroke-width="0.0" stroke-linejoin="round" stroke-linecap="round" />
<path d="M361 517.6 L371 520.8 M358.5 532.6 L368 535.8" fill="none" stroke="#222" stroke-width="0.96" stroke-linejoin="round" stroke-linecap="round" />
<path d="M358.8 530.5 L368 533.6 L368 535.8 L358.5 532.6 Z" fill="#444" stroke="#222" stroke-width="0.36" stroke-linejoin="round" stroke-linecap="round" />
<ellipse cx="372.5" cy="529.3" rx="6.8" ry="13" transform="rotate(20 372.5 529.3)" fill="#f7f7f7" stroke="#222" stroke-width="0.96" />
<ellipse cx="375" cy="530.2" rx="6.8" ry="13" transform="rotate(20 375 530.2)" fill="#666" stroke="#222" stroke-width="0.96" />
<ellipse cx="378" cy="531.2" rx="6.8" ry="13" transform="rotate(20 378 531.2)" fill="#f7f7f7" stroke="#222" stroke-width="0.96" />
<ellipse cx="380.5" cy="532.1" rx="6.8" ry="13" transform="rotate(20 380.5 532.1)" fill="#666" stroke="#222" stroke-width="0.96" />
<ellipse cx="383.5" cy="533.1" rx="6.8" ry="13" transform="rotate(20 383.5 533.1)" fill="#f7f7f7" stroke="#222" stroke-width="0.96" />
<ellipse cx="386" cy="534" rx="6.8" ry="13" transform="rotate(20 386 534)" fill="#888" stroke="#222" stroke-width="0.96" />
<ellipse cx="389.5" cy="535.2" rx="7.2" ry="13.2" transform="rotate(20 389.5 535.2)" fill="#f7f7f7" stroke="#222" stroke-width="1.08" />
<path d="M382 544.5 C385 548 389 548.8 392 547 C388 547 385 545.5 383 543 Z" fill="#222" stroke="#222" stroke-width="0.48" stroke-linejoin="round" stroke-linecap="round" />
<ellipse cx="391" cy="536" rx="2.6" ry="3.6" transform="rotate(20 391 536)" fill="#ddd" stroke="#222" stroke-width="0.96" />
<ellipse cx="403.5" cy="540.5" rx="5.6" ry="11.6" transform="rotate(20 403.5 540.5)" fill="#f7f7f7" stroke="#222" stroke-width="1.08" />
<ellipse cx="405" cy="541" rx="5.4" ry="11.2" transform="rotate(20 405 541)" fill="#f7f7f7" stroke="#222" stroke-width="1.08" />
<path d="M409.8 534.1 A4.1 8.2 20.2 0 0 404.2 549.5" fill="none" stroke="#555" stroke-width="0.864" stroke-linejoin="round" stroke-linecap="round" />
<path d="M413.0 535.5 A4.0 8.0 20.2 0 0 407.5 550.5" fill="none" stroke="#555" stroke-width="0.864" stroke-linejoin="round" stroke-linecap="round" />
<path d="M416.1 536.9 A3.9 7.8 20.2 0 0 410.8 551.5" fill="none" stroke="#555" stroke-width="0.864" stroke-linejoin="round" stroke-linecap="round" />
<path d="M419.3 538.2 A3.8 7.6 20.2 0 0 414.0 552.5" fill="none" stroke="#555" stroke-width="0.864" stroke-linejoin="round" stroke-linecap="round" />
<path d="M422.3 539.6 A3.7 7.4 20.2 0 0 417.2 553.4" fill="none" stroke="#555" stroke-width="0.864" stroke-linejoin="round" stroke-linecap="round" />
<path d="M425.4 540.9 A3.6 7.2 20.2 0 0 420.4 554.4" fill="none" stroke="#555" stroke-width="0.864" stroke-linejoin="round" stroke-linecap="round" />
<path d="M428.4 542.2 A3.5 7.0 20.2 0 0 423.6 555.3" fill="none" stroke="#555" stroke-width="0.864" stroke-linejoin="round" stroke-linecap="round" />
<path d="M431.4 543.5 A3.4 6.8 20.2 0 0 426.7 556.3" fill="none" stroke="#555" stroke-width="0.864" stroke-linejoin="round" stroke-linecap="round" />
<path d="M434.3 544.8 A3.3 6.6 20.2 0 0 429.8 557.2" fill="none" stroke="#555" stroke-width="0.864" stroke-linejoin="round" stroke-linecap="round" />
<path d="M437.3 546.1 A3.2 6.4 20.2 0 0 432.8 558.1" fill="none" stroke="#555" stroke-width="0.864" stroke-linejoin="round" stroke-linecap="round" />
<path d="M440.1 547.4 A3.1 6.2 20.2 0 0 435.9 559.0" fill="none" stroke="#555" stroke-width="0.864" stroke-linejoin="round" stroke-linecap="round" />
<path d="M409.8 534.1 A4.1 8.2 20.2 0 1 404.2 549.5" fill="none" stroke="#2a2a2a" stroke-width="1.44" stroke-linejoin="round" stroke-linecap="round" />
<path d="M413.0 535.5 A4.0 8.0 20.2 0 1 407.5 550.5" fill="none" stroke="#2a2a2a" stroke-width="1.44" stroke-linejoin="round" stroke-linecap="round" />
<path d="M416.1 536.9 A3.9 7.8 20.2 0 1 410.8 551.5" fill="none" stroke="#2a2a2a" stroke-width="1.44" stroke-linejoin="round" stroke-linecap="round" />
<path d="M419.3 538.2 A3.8 7.6 20.2 0 1 414.0 552.5" fill="none" stroke="#2a2a2a" stroke-width="1.44" stroke-linejoin="round" stroke-linecap="round" />
<path d="M422.3 539.6 A3.7 7.4 20.2 0 1 417.2 553.4" fill="none" stroke="#2a2a2a" stroke-width="1.44" stroke-linejoin="round" stroke-linecap="round" />
<path d="M425.4 540.9 A3.6 7.2 20.2 0 1 420.4 554.4" fill="none" stroke="#2a2a2a" stroke-width="1.44" stroke-linejoin="round" stroke-linecap="round" />
<path d="M428.4 542.2 A3.5 7.0 20.2 0 1 423.6 555.3" fill="none" stroke="#2a2a2a" stroke-width="1.44" stroke-linejoin="round" stroke-linecap="round" />
<path d="M431.4 543.5 A3.4 6.8 20.2 0 1 426.7 556.3" fill="none" stroke="#2a2a2a" stroke-width="1.44" stroke-linejoin="round" stroke-linecap="round" />
<path d="M434.3 544.8 A3.3 6.6 20.2 0 1 429.8 557.2" fill="none" stroke="#2a2a2a" stroke-width="1.44" stroke-linejoin="round" stroke-linecap="round" />
<path d="M437.3 546.1 A3.2 6.4 20.2 0 1 432.8 558.1" fill="none" stroke="#2a2a2a" stroke-width="1.44" stroke-linejoin="round" stroke-linecap="round" />
<path d="M440.1 547.4 A3.1 6.2 20.2 0 1 435.9 559.0" fill="none" stroke="#2a2a2a" stroke-width="1.44" stroke-linejoin="round" stroke-linecap="round" />
<path d="M406 546 L437 557.5" fill="none" stroke="#666" stroke-width="1.44" stroke-linejoin="round" stroke-linecap="round" />
<ellipse cx="440.5" cy="554.2" rx="4.8" ry="11.8" transform="rotate(20 440.5 554.2)" fill="#f7f7f7" stroke="#222" stroke-width="1.08" />
<ellipse cx="442.5" cy="555" rx="4.8" ry="11.8" transform="rotate(20 442.5 555)" fill="#f7f7f7" stroke="#222" stroke-width="1.08" />
<ellipse cx="444.5" cy="555.6" rx="4.4" ry="10.8" transform="rotate(20 444.5 555.6)" fill="#f7f7f7" stroke="#222" stroke-width="0.96" />
<path d="M438.5 562.5 C440 566 442.5 567.5 445 567 C442.5 566 441 564.3 440 561.8 Z" fill="#222" stroke="#222" stroke-width="0.48" stroke-linejoin="round" stroke-linecap="round" />
<linearGradient id="shg2" gradientUnits="userSpaceOnUse" x1="458" y1="551" x2="454" y2="567"><stop offset="0" stop-color="#eee"/><stop offset="0.45" stop-color="#f4f4f4"/><stop offset="0.75" stop-color="#bbb"/><stop offset="1" stop-color="#555"/></linearGradient>
<path d="M447.0 548.0 L471.0 556.6 L466.5 571.4 L443.5 563.0 Z" fill="url(#shg2)" stroke="#222" stroke-width="0.0" stroke-linejoin="round" stroke-linecap="round" />
<path d="M447 548 L471 556.6" fill="none" stroke="#222" stroke-width="1.08" stroke-linejoin="round" stroke-linecap="round" />
<path d="M444 562.3 L466 570.3" fill="none" stroke="#222" stroke-width="2.16" stroke-linejoin="round" stroke-linecap="round" />
<ellipse cx="466.5" cy="563.8" rx="6.2" ry="12" transform="rotate(20 466.5 563.8)" fill="#555" stroke="#222" stroke-width="0.96" />
<ellipse cx="469" cy="564.7" rx="6.2" ry="12" transform="rotate(20 469 564.7)" fill="#f7f7f7" stroke="#222" stroke-width="0.96" />
<ellipse cx="471.5" cy="565.6" rx="6.2" ry="12" transform="rotate(20 471.5 565.6)" fill="#555" stroke="#222" stroke-width="0.96" />
<ellipse cx="474" cy="566.5" rx="6.2" ry="12" transform="rotate(20 474 566.5)" fill="#f7f7f7" stroke="#222" stroke-width="0.96" />
<path d="M478.0 555.0 L486.0 557.3 L478.0 580.5 L470.5 578.0 Z" fill="#f7f7f7" stroke="#222" stroke-width="0.0" stroke-linejoin="round" stroke-linecap="round" />
<path d="M478 555.1 L485.5 557.2 M470 577.8 L477.5 580.3" fill="none" stroke="#222" stroke-width="0.96" stroke-linejoin="round" stroke-linecap="round" />
<path d="M467.5 573 C469 577 471.5 579 475 580 L478 580.5 C474.5 578.5 472.5 576 471.5 572.5 Z" fill="#222" stroke="#222" stroke-width="0.48" stroke-linejoin="round" stroke-linecap="round" />
<ellipse cx="481.5" cy="568.5" rx="7.2" ry="12.4" transform="rotate(20 481.5 568.5)" fill="#f7f7f7" stroke="#222" stroke-width="1.2" />
<ellipse cx="482" cy="569" rx="4.2" ry="6.8" transform="rotate(20 482 569)" fill="#ccc" stroke="#222" stroke-width="0.96" />
<path d="M480 563.8 C478.5 566.5 478.5 571 479.8 574" fill="none" stroke="#333" stroke-width="1.56" stroke-linejoin="round" stroke-linecap="round" />
<ellipse cx="503.5" cy="576.64" rx="10.6" ry="17.4" transform="rotate(20 503.5 576.64)" fill="#f7f7f7" stroke="#222" stroke-width="0.96" />
<ellipse cx="504.5" cy="577" rx="10.6" ry="17.4" transform="rotate(20 504.5 577)" fill="#f7f7f7" stroke="#222" stroke-width="0.96" />
<ellipse cx="504.5" cy="577" rx="5.2" ry="9.6" transform="rotate(20 504.5 577)" fill="#f7f7f7" stroke="#222" stroke-width="0.96" />
<path d="M507.4 567.9 A5.2 9.6 20 0 1 508.4 584.2" fill="none" stroke="#444" stroke-width="1.68" stroke-linejoin="round" stroke-linecap="round" />
<path d="M537.6 586 C539.5 579 536 571.5 530.5 571.3 C524 571.3 519 580 519.5 590 C520 598 523.5 603 527.5 602.3" fill="none" stroke="#222" stroke-width="2.88" stroke-linejoin="round" stroke-linecap="round" />
<path d="M537.6 586 C539.5 579 536 571.5 530.5 571.3 C524 571.3 519 580 519.5 590 C520 598 523.5 603 527.5 602.3" fill="none" stroke="#f7f7f7" stroke-width="1.08" stroke-linejoin="round" stroke-linecap="round" />
<path d="M537.6 585.5 L536.6 590.5 L534.6 591.8" fill="none" stroke="#222" stroke-width="1.92" stroke-linejoin="round" stroke-linecap="round" />
<path d="M527.5 602.3 L529.3 600.3" fill="none" stroke="#222" stroke-width="1.92" stroke-linejoin="round" stroke-linecap="round" />
<circle cx="657" cy="591.8" r="0.9" fill="none" stroke="#555" stroke-width="0.5"/>
<path d="M345.0 627.0 L355.0 626.2" fill="none" stroke="#3a3a3a" stroke-width="0.84" stroke-linejoin="round" stroke-linecap="round" />
<path d="M355.0 626.2 L356.2 537.5" fill="none" stroke="#3a3a3a" stroke-width="0.84" stroke-linejoin="round" stroke-linecap="round" />
<path d="M355.0 626.2 L436.0 566.5" fill="none" stroke="#3a3a3a" stroke-width="0.84" stroke-linejoin="round" stroke-linecap="round" />
<path d="M355.0 626.2 L494.0 590.0" fill="none" stroke="#3a3a3a" stroke-width="0.84" stroke-linejoin="round" stroke-linecap="round" />
<path d="M355.0 626.2 L525.0 602.0" fill="none" stroke="#3a3a3a" stroke-width="0.84" stroke-linejoin="round" stroke-linecap="round" />
<path d="M693.0 558.3 L551.0 558.6 L517.0 571.0" fill="none" stroke="#3a3a3a" stroke-width="0.84" stroke-linejoin="round" stroke-linecap="round" />
<path d="M693.0 591.8 L537.5 591.4" fill="none" stroke="#3a3a3a" stroke-width="0.84" stroke-linejoin="round" stroke-linecap="round" />
<path d="M513.0 427.3 L496.2 426.3" fill="none" stroke="#3a3a3a" stroke-width="0.84" stroke-linejoin="round" stroke-linecap="round" />
<path d="M496.2 426.3 L338.0 297.5" fill="none" stroke="#3a3a3a" stroke-width="0.84" stroke-linejoin="round" stroke-linecap="round" />
<path d="M496.2 426.3 L460.5 344.5" fill="none" stroke="#3a3a3a" stroke-width="0.84" stroke-linejoin="round" stroke-linecap="round" />
<path d="M496.2 426.3 L543.0 373.5" fill="none" stroke="#3a3a3a" stroke-width="0.84" stroke-linejoin="round" stroke-linecap="round" />
<path d="M634.0 268.0 L600.0 268.3 L497.0 272.3 L350.6 279.5" fill="none" stroke="#3a3a3a" stroke-width="0.84" stroke-linejoin="round" stroke-linecap="round" />
<path d="M497.0 272.3 L416.0 300.5" fill="none" stroke="#3a3a3a" stroke-width="0.84" stroke-linejoin="round" stroke-linecap="round" />
<path d="M634.0 290.0 L627.0 290.4 L473.0 319.0" fill="none" stroke="#3a3a3a" stroke-width="0.84" stroke-linejoin="round" stroke-linecap="round" />
<path d="M634.0 311.0 L627.0 311.2 L512.0 337.0" fill="none" stroke="#3a3a3a" stroke-width="0.84" stroke-linejoin="round" stroke-linecap="round" />
<defs><filter id="pn" x="0" y="0" width="100%" height="100%"><feTurbulence type="fractalNoise" baseFrequency="0.28" numOctaves="3" seed="7"/><feColorMatrix type="matrix" values="0 0 0 0 0  0 0 0 0 0  0 0 0 0 0  0.12 0 0 0 -0.04"/></filter></defs>
<rect x="0" y="76" width="800" height="647" filter="url(#pn)" fill="#000"/>
</svg>
</body></html>
